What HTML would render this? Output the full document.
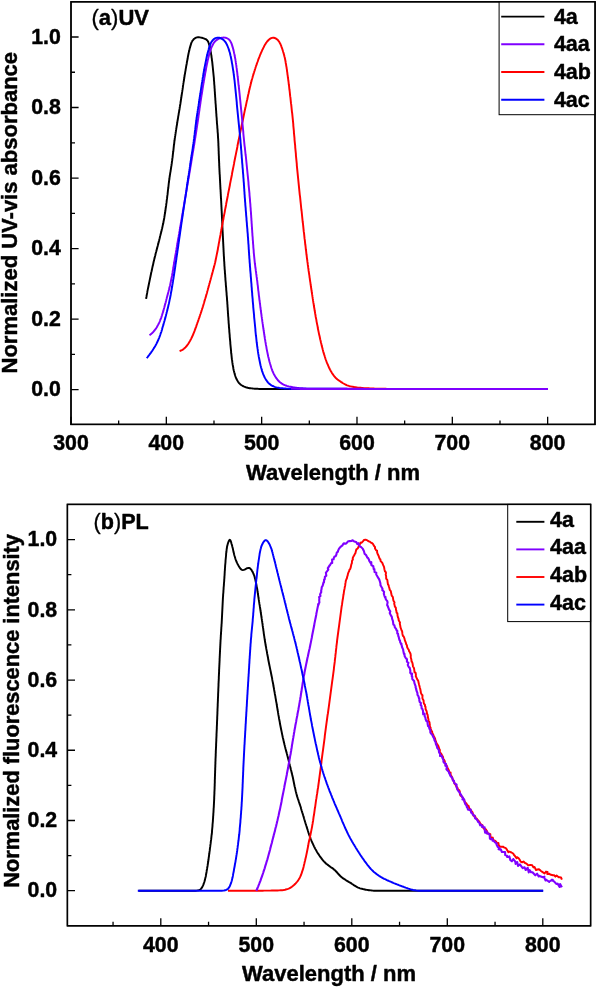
<!DOCTYPE html>
<html><head><meta charset="utf-8"><title>Normalized UV-vis absorbance and fluorescence spectra</title>
<style>
html,body{margin:0;padding:0;background:#fff;}
body{width:597px;height:988px;overflow:hidden;}
svg{display:block;will-change:transform;}
text{font-family:"Liberation Sans",sans-serif;font-weight:bold;fill:#000;stroke:#000;stroke-width:0.45px;stroke-linejoin:round;}
.tk{font-size:21.3px;}
.lb{font-size:22px;}
.lg{font-size:21.5px;}
.ti{font-size:22px;}
.rg{font-weight:normal;stroke-width:0.3px;}
</style></head><body>
<svg width="597" height="988" viewBox="0 0 597 988">
<rect x="0" y="0" width="597" height="988" fill="#fff"/>

<path d="M146.1,298.8 L146.3,297.5 L146.5,296.7 L146.6,295.8 L146.8,294.8 L147.0,293.9 L147.2,292.9 L147.3,291.9 L147.5,290.9 L147.7,289.9 L147.9,288.9 L148.1,288.0 L148.3,287.0 L148.5,286.0 L148.7,285.0 L148.9,284.0 L149.1,283.0 L149.3,282.1 L149.5,281.1 L149.7,280.1 L149.9,279.1 L150.1,278.1 L150.3,277.2 L150.5,276.2 L150.7,275.2 L150.9,274.2 L151.1,273.2 L151.3,272.3 L151.6,271.3 L151.8,270.3 L152.0,269.3 L152.2,268.4 L152.4,267.4 L152.6,266.4 L152.9,265.4 L153.1,264.5 L153.3,263.5 L153.5,262.5 L153.7,261.5 L154.0,260.6 L154.2,259.6 L154.4,258.6 L154.7,257.6 L154.9,256.7 L155.2,255.7 L155.4,254.7 L155.6,253.8 L155.9,252.8 L156.2,251.8 L156.4,250.8 L156.7,249.9 L156.9,248.9 L157.2,247.9 L157.4,247.0 L157.7,246.0 L157.9,245.0 L158.2,244.1 L158.4,243.1 L158.7,242.1 L158.9,241.2 L159.2,240.2 L159.4,239.2 L159.7,238.2 L159.9,237.3 L160.1,236.3 L160.4,235.3 L160.6,234.4 L160.9,233.4 L161.1,232.4 L161.4,231.4 L161.6,230.5 L161.8,229.5 L162.1,228.5 L162.3,227.5 L162.5,226.6 L162.7,225.6 L162.9,224.6 L163.2,223.6 L163.4,222.6 L163.5,221.7 L163.7,220.7 L163.9,219.7 L164.1,218.7 L164.3,217.7 L164.4,216.7 L164.6,215.8 L164.7,214.8 L164.9,213.8 L165.1,212.8 L165.2,211.8 L165.4,210.8 L165.5,209.8 L165.6,208.8 L165.8,207.8 L165.9,206.8 L166.1,205.9 L166.2,204.9 L166.3,203.9 L166.5,202.9 L166.6,201.9 L166.7,200.9 L166.8,199.9 L167.0,198.9 L167.1,197.9 L167.2,196.9 L167.3,195.9 L167.5,194.9 L167.6,193.9 L167.7,192.9 L167.8,191.9 L167.9,190.9 L168.0,190.0 L168.1,189.0 L168.3,188.0 L168.4,187.0 L168.5,186.0 L168.6,185.0 L168.7,184.0 L168.8,183.0 L169.0,182.0 L169.1,181.0 L169.2,180.0 L169.4,179.0 L169.5,178.0 L169.6,177.0 L169.8,176.0 L169.9,175.1 L170.1,174.1 L170.2,173.1 L170.4,172.1 L170.6,171.1 L170.7,170.1 L170.9,169.1 L171.0,168.1 L171.2,167.1 L171.3,166.2 L171.5,165.2 L171.6,164.2 L171.8,163.2 L171.9,162.2 L172.0,161.2 L172.2,160.2 L172.3,159.2 L172.4,158.2 L172.6,157.2 L172.7,156.2 L172.8,155.2 L172.9,154.2 L173.0,153.3 L173.1,152.3 L173.3,151.3 L173.4,150.3 L173.5,149.3 L173.6,148.3 L173.7,147.3 L173.8,146.3 L173.9,145.3 L174.1,144.3 L174.2,143.3 L174.3,142.3 L174.4,141.3 L174.6,140.3 L174.7,139.3 L174.8,138.3 L175.0,137.4 L175.1,136.4 L175.3,135.4 L175.4,134.4 L175.6,133.4 L175.7,132.4 L175.9,131.4 L176.0,130.4 L176.2,129.4 L176.3,128.4 L176.5,127.5 L176.6,126.5 L176.8,125.5 L177.0,124.5 L177.1,123.5 L177.3,122.5 L177.4,121.5 L177.6,120.5 L177.8,119.5 L177.9,118.6 L178.1,117.6 L178.2,116.6 L178.4,115.6 L178.6,114.6 L178.7,113.6 L178.9,112.6 L179.1,111.6 L179.2,110.7 L179.4,109.7 L179.6,108.7 L179.7,107.7 L179.9,106.7 L180.0,105.7 L180.2,104.7 L180.4,103.7 L180.5,102.8 L180.7,101.8 L180.8,100.8 L181.0,99.8 L181.1,98.8 L181.3,97.8 L181.4,96.8 L181.6,95.8 L181.7,94.8 L181.9,93.8 L182.0,92.9 L182.2,91.9 L182.3,90.9 L182.5,89.9 L182.6,88.9 L182.8,87.9 L182.9,86.9 L183.0,85.9 L183.2,84.9 L183.3,83.9 L183.5,82.9 L183.6,82.0 L183.8,81.0 L184.0,80.0 L184.1,79.0 L184.3,78.0 L184.4,77.0 L184.6,76.0 L184.7,75.0 L184.9,74.0 L185.1,73.1 L185.2,72.1 L185.4,71.1 L185.6,70.1 L185.7,69.1 L185.9,68.1 L186.1,67.1 L186.2,66.1 L186.4,65.2 L186.6,64.2 L186.8,63.2 L186.9,62.2 L187.1,61.2 L187.3,60.2 L187.5,59.3 L187.7,58.3 L187.8,57.3 L188.0,56.3 L188.2,55.3 L188.4,54.3 L188.6,53.3 L188.8,52.4 L189.0,51.4 L189.3,50.4 L189.5,49.4 L189.7,48.4 L190.0,47.4 L190.3,46.4 L190.6,45.4 L190.9,44.4 L191.2,43.4 L191.5,42.5 L192.0,41.6 L192.4,40.8 L193.0,40.1 L193.6,39.3 L194.3,38.7 L195.2,38.1 L196.1,37.7 L197.0,37.4 L197.9,37.3 L198.9,37.3 L199.9,37.4 L200.9,37.6 L201.9,37.8 L202.9,38.1 L203.8,38.4 L204.8,38.8 L205.7,39.2 L206.5,39.7 L207.1,40.3 L207.7,40.9 L208.2,41.7 L208.5,42.6 L208.9,43.5 L209.1,44.5 L209.4,45.5 L209.7,46.5 L209.9,47.6 L210.1,48.6 L210.3,49.7 L210.5,50.7 L210.7,51.7 L210.9,52.7 L211.0,53.6 L211.2,54.6 L211.4,55.6 L211.5,56.6 L211.6,57.6 L211.8,58.6 L211.9,59.6 L212.0,60.6 L212.2,61.6 L212.3,62.6 L212.4,63.6 L212.5,64.6 L212.6,65.6 L212.7,66.5 L212.8,67.5 L212.9,68.5 L213.0,69.5 L213.1,70.5 L213.2,71.5 L213.3,72.5 L213.4,73.5 L213.5,74.5 L213.6,75.5 L213.7,76.5 L213.8,77.5 L213.9,78.5 L213.9,79.5 L214.0,80.5 L214.1,81.5 L214.2,82.5 L214.2,83.5 L214.3,84.5 L214.4,85.5 L214.5,86.5 L214.5,87.5 L214.6,88.5 L214.7,89.5 L214.7,90.5 L214.8,91.5 L214.9,92.5 L214.9,93.5 L215.0,94.5 L215.1,95.5 L215.1,96.5 L215.2,97.5 L215.3,98.5 L215.3,99.5 L215.4,100.5 L215.5,101.5 L215.5,102.5 L215.6,103.5 L215.7,104.5 L215.8,105.5 L215.8,106.5 L215.9,107.5 L216.0,108.5 L216.0,109.5 L216.1,110.5 L216.2,111.5 L216.2,112.5 L216.3,113.5 L216.4,114.5 L216.4,115.5 L216.5,116.5 L216.6,117.5 L216.7,118.5 L216.7,119.5 L216.8,120.5 L216.9,121.5 L216.9,122.5 L217.0,123.5 L217.1,124.5 L217.2,125.5 L217.3,126.5 L217.3,127.4 L217.4,128.4 L217.5,129.4 L217.6,130.4 L217.6,131.4 L217.7,132.4 L217.8,133.4 L217.9,134.4 L217.9,135.4 L218.0,136.4 L218.0,137.4 L218.1,138.4 L218.2,139.4 L218.2,140.4 L218.3,141.4 L218.3,142.4 L218.4,143.4 L218.4,144.4 L218.4,145.4 L218.5,146.4 L218.5,147.4 L218.6,148.4 L218.6,149.4 L218.6,150.4 L218.7,151.4 L218.7,152.4 L218.7,153.4 L218.8,154.4 L218.8,155.4 L218.9,156.4 L218.9,157.4 L218.9,158.4 L219.0,159.4 L219.0,160.4 L219.1,161.4 L219.1,162.4 L219.2,163.4 L219.2,164.4 L219.2,165.4 L219.3,166.4 L219.3,167.4 L219.4,168.4 L219.4,169.4 L219.5,170.4 L219.5,171.4 L219.6,172.4 L219.6,173.4 L219.7,174.4 L219.8,175.4 L219.8,176.4 L219.9,177.4 L219.9,178.4 L220.0,179.4 L220.0,180.4 L220.1,181.4 L220.1,182.4 L220.2,183.4 L220.2,184.4 L220.3,185.4 L220.3,186.4 L220.4,187.4 L220.4,188.4 L220.5,189.4 L220.6,190.4 L220.6,191.4 L220.7,192.4 L220.7,193.4 L220.8,194.4 L220.8,195.4 L220.9,196.4 L220.9,197.4 L221.0,198.4 L221.1,199.4 L221.1,200.4 L221.2,201.4 L221.2,202.4 L221.3,203.4 L221.3,204.4 L221.4,205.4 L221.4,206.4 L221.5,207.4 L221.5,208.4 L221.6,209.4 L221.6,210.4 L221.7,211.4 L221.7,212.4 L221.8,213.4 L221.8,214.4 L221.9,215.4 L221.9,216.4 L222.0,217.4 L222.0,218.4 L222.1,219.4 L222.1,220.4 L222.2,221.4 L222.2,222.4 L222.3,223.4 L222.3,224.4 L222.3,225.4 L222.4,226.4 L222.4,227.4 L222.5,228.4 L222.5,229.4 L222.6,230.4 L222.6,231.4 L222.7,232.4 L222.7,233.4 L222.8,234.4 L222.8,235.4 L222.9,236.4 L222.9,237.4 L223.0,238.4 L223.0,239.4 L223.1,240.4 L223.1,241.4 L223.2,242.4 L223.2,243.4 L223.3,244.4 L223.3,245.4 L223.4,246.4 L223.4,247.4 L223.5,248.4 L223.5,249.4 L223.6,250.4 L223.6,251.4 L223.7,252.4 L223.7,253.4 L223.8,254.4 L223.8,255.4 L223.9,256.4 L224.0,257.4 L224.0,258.4 L224.1,259.4 L224.1,260.4 L224.2,261.4 L224.3,262.4 L224.3,263.4 L224.4,264.4 L224.4,265.4 L224.5,266.4 L224.6,267.4 L224.6,268.4 L224.7,269.4 L224.8,270.4 L224.9,271.4 L224.9,272.4 L225.0,273.4 L225.1,274.4 L225.2,275.4 L225.2,276.4 L225.3,277.4 L225.4,278.4 L225.4,279.4 L225.5,280.4 L225.6,281.4 L225.7,282.4 L225.8,283.4 L225.8,284.4 L225.9,285.4 L226.0,286.4 L226.1,287.4 L226.2,288.4 L226.2,289.4 L226.3,290.4 L226.4,291.4 L226.5,292.4 L226.6,293.4 L226.6,294.4 L226.7,295.4 L226.8,296.4 L226.9,297.4 L227.0,298.4 L227.0,299.4 L227.1,300.4 L227.2,301.4 L227.3,302.4 L227.3,303.4 L227.4,304.4 L227.5,305.4 L227.5,306.4 L227.6,307.4 L227.7,308.4 L227.7,309.4 L227.8,310.4 L227.9,311.4 L227.9,312.4 L228.0,313.4 L228.1,314.3 L228.1,315.3 L228.2,316.3 L228.3,317.3 L228.4,318.3 L228.4,319.3 L228.5,320.3 L228.6,321.3 L228.6,322.3 L228.7,323.3 L228.8,324.3 L228.9,325.3 L228.9,326.3 L229.0,327.3 L229.1,328.3 L229.2,329.3 L229.3,330.3 L229.3,331.3 L229.4,332.3 L229.5,333.3 L229.6,334.3 L229.7,335.3 L229.7,336.3 L229.8,337.3 L229.9,338.3 L230.0,339.3 L230.1,340.3 L230.2,341.3 L230.3,342.3 L230.3,343.3 L230.4,344.3 L230.5,345.3 L230.6,346.3 L230.7,347.3 L230.8,348.3 L230.9,349.3 L231.0,350.3 L231.1,351.3 L231.1,352.3 L231.2,353.3 L231.4,354.3 L231.5,355.3 L231.6,356.3 L231.7,357.3 L231.8,358.3 L231.9,359.2 L232.1,360.2 L232.2,361.2 L232.3,362.2 L232.5,363.2 L232.6,364.2 L232.8,365.2 L233.0,366.2 L233.2,367.2 L233.3,368.2 L233.5,369.2 L233.7,370.2 L234.0,371.2 L234.2,372.2 L234.5,373.1 L234.7,374.1 L235.0,375.0 L235.3,376.0 L235.6,376.9 L236.0,377.8 L236.4,378.8 L236.9,379.7 L237.4,380.6 L237.9,381.5 L238.5,382.3 L239.1,383.1 L239.8,383.8 L240.5,384.4 L241.2,385.0 L242.0,385.5 L242.8,386.0 L243.7,386.4 L244.7,386.8 L245.7,387.2 L246.7,387.5 L247.7,387.8 L248.7,388.0 L249.7,388.2 L250.6,388.3 L251.6,388.4 L252.6,388.5 L253.6,388.6 L254.6,388.7 L255.6,388.7 L256.6,388.8 L257.6,388.8 L258.6,388.9 L259.7,388.9 L260.7,388.9 L261.7,388.9 L262.7,388.9 L263.7,388.9 L264.7,388.9 L265.7,388.9 L266.7,388.9 L267.7,388.9 L268.7,388.9 L269.7,388.9 L270.7,388.9 L271.7,388.9 L272.7,388.9 L273.7,388.9 L274.7,388.9 L275.7,388.9 L276.7,388.9 L277.7,388.9 L278.7,388.9 L279.7,388.9 L280.7,388.9 L281.7,388.9 L282.7,388.9 L283.7,388.9 L284.7,388.9 L285.7,388.9 L286.7,388.9 L287.7,388.9 L288.7,388.9 L289.7,388.9 L290.7,388.9 L291.7,388.9 L292.7,388.9 L293.7,388.9 L294.7,388.9 L295.7,388.9 L296.7,388.9 L297.7,388.9 L298.7,388.9 L299.7,388.9 L300.7,388.9 L301.7,388.9 L302.7,388.9 L303.7,388.9 L304.7,388.9 L305.7,388.9 L306.7,388.9 L307.7,388.9 L308.7,388.9 L309.7,388.9 L310.7,388.9 L311.7,388.9 L312.7,388.9 L313.7,388.9 L314.7,388.9 L315.7,388.9 L316.7,388.9 L317.7,388.9 L318.7,388.9 L319.7,388.9 L320.7,388.9 L321.7,388.9 L322.7,389.0 L323.7,389.0 L324.7,389.0 L325.7,389.0 L326.7,389.0 L327.7,389.0 L328.7,389.0 L329.7,389.0 L330.7,389.0 L331.7,389.0 L332.7,389.0 L333.7,389.0 L334.7,389.0 L335.7,389.0 L336.7,389.0 L337.7,389.0 L338.7,389.0 L339.7,389.0 L340.7,389.0 L341.7,389.0 L342.7,389.0 L343.7,389.0 L344.7,389.0 L345.7,389.0 L346.7,389.0 L347.7,389.0 L348.7,389.0 L349.7,389.0 L350.7,389.0 L351.7,389.0 L352.7,389.0 L353.7,389.0 L354.7,389.0 L355.7,389.0 L356.7,389.0 L357.7,389.0 L358.7,389.0 L359.7,389.0 L360.7,389.0 L361.7,389.0 L362.7,389.0 L363.7,389.0 L364.7,389.0 L365.7,389.0 L366.7,389.0 L367.7,389.0 L368.7,389.0 L369.7,389.0 L370.7,389.0 L371.7,389.0 L372.7,389.0 L373.7,389.0 L374.7,389.0 L375.7,389.0 L376.7,389.0 L377.7,389.0 L378.7,389.0 L379.7,389.0 L380.7,389.0 L381.7,389.0 L382.7,389.0 L383.7,389.0 L384.7,389.0 L385.7,389.0 L386.7,389.0 L387.7,389.0 L388.7,389.0 L389.7,389.0 L390.7,389.0 L391.7,389.0 L392.7,389.0 L393.7,389.0 L394.7,389.0 L395.7,389.0 L396.7,389.0 L397.7,389.0 L398.7,389.0 L399.7,389.0 L400.7,389.0 L401.7,389.0 L402.7,389.0 L403.7,389.0 L404.7,389.0 L405.7,389.0 L406.7,389.0 L407.7,389.0 L408.7,389.0 L409.7,389.0 L410.7,389.0 L411.7,389.0 L412.7,389.0 L413.7,389.0 L414.7,389.0 L415.7,389.0 L416.7,389.0 L417.7,389.0 L418.7,389.0 L419.7,389.0 L420.7,389.0 L421.7,389.0 L422.7,389.0 L423.7,389.0 L424.7,389.0 L425.7,389.0 L426.8,389.0 L427.8,389.0 L428.8,389.0 L429.8,389.0 L430.8,389.0 L431.8,389.0 L432.8,389.0 L433.8,389.0 L434.8,389.0 L435.8,389.0 L436.8,389.0 L437.8,389.0 L438.8,389.0 L439.8,389.0 L440.8,389.0 L441.8,389.0 L442.8,389.0 L443.8,389.0 L444.8,389.0 L445.8,389.0 L446.8,389.0 L447.8,389.0 L448.8,389.0 L449.8,389.0 L450.8,389.0 L451.8,389.0 L452.8,389.0 L453.8,389.0 L454.8,389.0 L455.8,389.0 L456.8,389.0 L457.8,389.0 L458.8,389.0 L459.8,389.0 L460.8,389.0 L461.8,389.0 L462.8,389.0 L463.8,389.0 L464.8,389.0 L465.8,389.0 L466.8,389.0 L467.8,389.0 L468.8,389.0 L469.8,389.0 L470.8,389.0 L471.8,389.0 L472.8,389.0 L473.8,389.0 L474.8,389.0 L475.8,389.0 L476.8,389.0 L477.8,389.0 L478.8,389.0 L479.8,389.0 L480.8,389.0 L481.8,389.0 L482.8,389.0 L483.8,389.0 L484.8,389.0 L485.8,389.0 L486.8,389.0 L487.9,389.0 L488.9,389.0 L489.9,389.0 L490.9,389.0 L491.9,389.0 L492.9,389.0 L493.9,389.0 L494.9,389.0 L495.9,389.0 L496.9,389.0 L497.9,389.0 L498.9,389.0 L499.9,389.0 L500.9,389.0 L501.9,389.0 L502.9,389.0 L503.9,389.0 L504.9,389.0 L505.9,389.0 L506.9,389.0 L507.9,389.0 L508.9,389.0 L509.9,389.0 L510.9,389.0 L511.9,389.0 L512.9,389.0 L513.9,389.0 L514.9,389.0 L515.9,389.0 L516.9,389.0 L517.9,389.0 L518.9,389.0 L519.9,389.0 L520.9,389.0 L521.9,389.0 L522.9,389.0 L523.9,389.0 L524.9,389.0 L525.9,389.0 L526.9,389.0 L527.9,389.0 L528.9,389.0 L529.9,389.0 L531.0,389.0 L532.0,389.0 L533.0,389.0 L534.0,389.0 L535.0,389.0 L536.0,389.0 L537.0,389.0 L538.0,389.0 L539.0,389.0 L540.0,389.0 L541.0,389.0 L542.0,389.0 L543.0,389.0 L544.0,389.0 L545.0,389.0 L545.9,389.0 L546.7,389.0 L548.0,389.0" fill="none" stroke="#000000" stroke-width="1.95" stroke-linejoin="round" stroke-linecap="butt"/>
<path d="M179.6,351.1 L181.1,350.5 L181.7,350.2 L182.4,349.8 L183.2,349.3 L183.9,348.8 L184.7,348.1 L185.4,347.5 L186.0,346.7 L186.7,346.0 L187.3,345.2 L187.9,344.3 L188.5,343.5 L189.0,342.6 L189.5,341.7 L190.0,340.9 L190.5,340.0 L191.0,339.1 L191.4,338.2 L191.9,337.3 L192.3,336.4 L192.7,335.5 L193.1,334.6 L193.5,333.7 L193.8,332.8 L194.2,331.8 L194.6,330.9 L194.9,329.9 L195.3,329.0 L195.6,328.0 L196.0,327.1 L196.3,326.1 L196.6,325.2 L197.0,324.2 L197.3,323.3 L197.6,322.3 L198.0,321.4 L198.3,320.4 L198.6,319.5 L198.9,318.5 L199.3,317.6 L199.6,316.6 L199.9,315.7 L200.2,314.7 L200.6,313.8 L200.9,312.8 L201.2,311.9 L201.5,310.9 L201.8,310.0 L202.1,309.0 L202.4,308.1 L202.7,307.1 L203.0,306.2 L203.3,305.2 L203.6,304.2 L203.9,303.3 L204.2,302.3 L204.4,301.4 L204.7,300.4 L205.0,299.4 L205.3,298.5 L205.6,297.5 L205.9,296.6 L206.1,295.6 L206.4,294.6 L206.7,293.7 L207.0,292.7 L207.2,291.7 L207.5,290.8 L207.8,289.8 L208.0,288.8 L208.3,287.9 L208.6,286.9 L208.8,286.0 L209.1,285.0 L209.3,284.0 L209.6,283.1 L209.9,282.1 L210.1,281.1 L210.4,280.2 L210.7,279.2 L210.9,278.2 L211.2,277.3 L211.5,276.3 L211.7,275.3 L212.0,274.4 L212.3,273.4 L212.5,272.4 L212.8,271.5 L213.0,270.5 L213.3,269.5 L213.6,268.6 L213.8,267.6 L214.1,266.6 L214.3,265.7 L214.6,264.7 L214.8,263.7 L215.1,262.7 L215.3,261.8 L215.5,260.8 L215.7,259.8 L215.9,258.8 L216.1,257.9 L216.3,256.9 L216.5,255.9 L216.7,254.9 L216.9,253.9 L217.1,253.0 L217.3,252.0 L217.5,251.0 L217.7,250.0 L217.9,249.0 L218.0,248.0 L218.2,247.0 L218.4,246.1 L218.6,245.1 L218.7,244.1 L218.9,243.1 L219.1,242.1 L219.3,241.1 L219.5,240.1 L219.6,239.2 L219.8,238.2 L220.0,237.2 L220.2,236.2 L220.4,235.2 L220.6,234.2 L220.7,233.3 L220.9,232.3 L221.1,231.3 L221.3,230.3 L221.5,229.3 L221.6,228.3 L221.8,227.3 L222.0,226.4 L222.2,225.4 L222.4,224.4 L222.5,223.4 L222.7,222.4 L222.9,221.4 L223.1,220.4 L223.3,219.5 L223.5,218.5 L223.6,217.5 L223.8,216.5 L224.0,215.5 L224.2,214.5 L224.4,213.6 L224.6,212.6 L224.8,211.6 L224.9,210.6 L225.1,209.6 L225.3,208.6 L225.5,207.7 L225.7,206.7 L225.9,205.7 L226.1,204.7 L226.2,203.7 L226.4,202.7 L226.6,201.8 L226.8,200.8 L227.0,199.8 L227.2,198.8 L227.4,197.8 L227.6,196.8 L227.8,195.9 L227.9,194.9 L228.1,193.9 L228.3,192.9 L228.5,191.9 L228.7,190.9 L228.9,190.0 L229.1,189.0 L229.3,188.0 L229.5,187.0 L229.7,186.0 L229.9,185.0 L230.0,184.1 L230.2,183.1 L230.4,182.1 L230.6,181.1 L230.8,180.1 L231.0,179.1 L231.2,178.2 L231.4,177.2 L231.6,176.2 L231.8,175.2 L232.0,174.2 L232.1,173.2 L232.3,172.3 L232.5,171.3 L232.7,170.3 L232.9,169.3 L233.1,168.3 L233.3,167.4 L233.5,166.4 L233.7,165.4 L233.9,164.4 L234.1,163.4 L234.2,162.4 L234.4,161.5 L234.6,160.5 L234.8,159.5 L235.0,158.5 L235.2,157.5 L235.4,156.5 L235.6,155.6 L235.8,154.6 L236.0,153.6 L236.2,152.6 L236.4,151.6 L236.6,150.6 L236.8,149.7 L237.0,148.7 L237.2,147.7 L237.4,146.7 L237.5,145.7 L237.7,144.8 L237.9,143.8 L238.1,142.8 L238.3,141.8 L238.5,140.8 L238.7,139.8 L238.9,138.9 L239.1,137.9 L239.3,136.9 L239.5,135.9 L239.7,134.9 L239.9,134.0 L240.1,133.0 L240.3,132.0 L240.5,131.0 L240.7,130.0 L240.9,129.1 L241.1,128.1 L241.3,127.1 L241.5,126.1 L241.7,125.1 L241.9,124.2 L242.1,123.2 L242.3,122.2 L242.6,121.2 L242.8,120.2 L243.0,119.3 L243.2,118.3 L243.4,117.3 L243.6,116.3 L243.8,115.3 L244.0,114.4 L244.2,113.4 L244.4,112.4 L244.6,111.4 L244.8,110.4 L245.0,109.5 L245.2,108.5 L245.4,107.5 L245.7,106.5 L245.9,105.5 L246.1,104.6 L246.3,103.6 L246.5,102.6 L246.7,101.6 L246.9,100.7 L247.2,99.7 L247.4,98.7 L247.6,97.7 L247.8,96.7 L248.0,95.8 L248.2,94.8 L248.5,93.8 L248.7,92.8 L248.9,91.8 L249.1,90.9 L249.3,89.9 L249.6,88.9 L249.8,87.9 L250.0,87.0 L250.3,86.0 L250.5,85.0 L250.7,84.1 L251.0,83.1 L251.2,82.1 L251.5,81.1 L251.7,80.2 L252.0,79.2 L252.3,78.3 L252.6,77.3 L252.8,76.3 L253.1,75.4 L253.4,74.4 L253.7,73.4 L254.0,72.5 L254.3,71.5 L254.6,70.6 L254.9,69.6 L255.2,68.7 L255.5,67.7 L255.8,66.8 L256.1,65.8 L256.5,64.9 L256.8,63.9 L257.1,63.0 L257.5,62.0 L257.8,61.1 L258.1,60.1 L258.5,59.2 L258.8,58.3 L259.2,57.3 L259.6,56.4 L259.9,55.5 L260.3,54.5 L260.7,53.6 L261.1,52.7 L261.5,51.8 L261.9,50.9 L262.3,49.9 L262.8,49.0 L263.2,48.1 L263.7,47.2 L264.1,46.3 L264.6,45.4 L265.1,44.5 L265.7,43.6 L266.2,42.8 L266.8,42.0 L267.4,41.2 L268.1,40.5 L268.8,39.8 L269.5,39.2 L270.3,38.7 L271.2,38.2 L272.1,37.9 L273.0,37.8 L273.8,37.8 L274.7,38.0 L275.6,38.4 L276.4,38.9 L277.2,39.5 L277.9,40.1 L278.5,40.9 L279.1,41.6 L279.6,42.5 L280.0,43.3 L280.5,44.2 L280.9,45.2 L281.3,46.1 L281.6,47.1 L282.0,48.1 L282.3,49.0 L282.6,50.0 L282.9,51.0 L283.2,52.0 L283.5,52.9 L283.8,53.9 L284.0,54.9 L284.3,55.8 L284.5,56.8 L284.8,57.8 L285.0,58.8 L285.2,59.7 L285.4,60.7 L285.6,61.7 L285.7,62.7 L285.9,63.7 L286.1,64.6 L286.2,65.6 L286.4,66.6 L286.6,67.6 L286.7,68.6 L286.9,69.6 L287.0,70.6 L287.1,71.6 L287.3,72.6 L287.4,73.6 L287.5,74.6 L287.7,75.6 L287.8,76.5 L287.9,77.5 L288.1,78.5 L288.2,79.5 L288.3,80.5 L288.5,81.5 L288.6,82.5 L288.7,83.5 L288.8,84.5 L289.0,85.5 L289.1,86.5 L289.2,87.5 L289.3,88.5 L289.4,89.5 L289.6,90.5 L289.7,91.5 L289.8,92.4 L289.9,93.4 L290.0,94.4 L290.1,95.4 L290.2,96.4 L290.4,97.4 L290.5,98.4 L290.6,99.4 L290.7,100.4 L290.8,101.4 L290.9,102.4 L291.0,103.4 L291.2,104.4 L291.3,105.4 L291.4,106.4 L291.5,107.4 L291.6,108.4 L291.7,109.4 L291.8,110.4 L291.9,111.4 L292.0,112.3 L292.2,113.3 L292.3,114.3 L292.4,115.3 L292.5,116.3 L292.6,117.3 L292.7,118.3 L292.8,119.3 L292.9,120.3 L293.0,121.3 L293.1,122.3 L293.2,123.3 L293.3,124.3 L293.3,125.3 L293.4,126.3 L293.5,127.3 L293.6,128.3 L293.7,129.3 L293.8,130.3 L293.9,131.3 L293.9,132.3 L294.0,133.3 L294.1,134.3 L294.2,135.3 L294.3,136.3 L294.4,137.3 L294.5,138.3 L294.5,139.3 L294.6,140.3 L294.7,141.3 L294.8,142.3 L294.9,143.3 L295.0,144.3 L295.1,145.2 L295.2,146.2 L295.2,147.2 L295.3,148.2 L295.4,149.2 L295.5,150.2 L295.6,151.2 L295.7,152.2 L295.8,153.2 L295.9,154.2 L295.9,155.2 L296.0,156.2 L296.1,157.2 L296.2,158.2 L296.3,159.2 L296.4,160.2 L296.5,161.2 L296.6,162.2 L296.7,163.2 L296.8,164.2 L296.8,165.2 L296.9,166.2 L297.0,167.2 L297.1,168.2 L297.2,169.2 L297.3,170.2 L297.4,171.2 L297.5,172.2 L297.6,173.2 L297.7,174.2 L297.8,175.2 L297.9,176.2 L298.0,177.2 L298.1,178.2 L298.2,179.1 L298.3,180.1 L298.4,181.1 L298.5,182.1 L298.6,183.1 L298.7,184.1 L298.8,185.1 L298.9,186.1 L299.0,187.1 L299.1,188.1 L299.2,189.1 L299.3,190.1 L299.4,191.1 L299.5,192.1 L299.6,193.1 L299.7,194.1 L299.8,195.1 L300.0,196.1 L300.1,197.1 L300.2,198.1 L300.3,199.1 L300.4,200.1 L300.5,201.1 L300.6,202.1 L300.7,203.0 L300.8,204.0 L300.9,205.0 L301.0,206.0 L301.1,207.0 L301.2,208.0 L301.3,209.0 L301.4,210.0 L301.6,211.0 L301.7,212.0 L301.8,213.0 L301.9,214.0 L302.0,215.0 L302.1,216.0 L302.2,217.0 L302.3,218.0 L302.4,219.0 L302.5,220.0 L302.6,221.0 L302.7,222.0 L302.9,223.0 L303.0,224.0 L303.1,224.9 L303.2,225.9 L303.3,226.9 L303.4,227.9 L303.5,228.9 L303.6,229.9 L303.7,230.9 L303.8,231.9 L304.0,232.9 L304.1,233.9 L304.2,234.9 L304.3,235.9 L304.4,236.9 L304.5,237.9 L304.6,238.9 L304.8,239.9 L304.9,240.9 L305.0,241.9 L305.1,242.9 L305.2,243.9 L305.3,244.8 L305.5,245.8 L305.6,246.8 L305.7,247.8 L305.8,248.8 L305.9,249.8 L306.1,250.8 L306.2,251.8 L306.3,252.8 L306.4,253.8 L306.5,254.8 L306.7,255.8 L306.8,256.8 L306.9,257.8 L307.0,258.8 L307.2,259.8 L307.3,260.7 L307.4,261.7 L307.6,262.7 L307.7,263.7 L307.8,264.7 L308.0,265.7 L308.1,266.7 L308.2,267.7 L308.4,268.7 L308.5,269.7 L308.6,270.7 L308.8,271.7 L308.9,272.6 L309.1,273.6 L309.2,274.6 L309.4,275.6 L309.5,276.6 L309.6,277.6 L309.8,278.6 L309.9,279.6 L310.1,280.6 L310.2,281.6 L310.4,282.6 L310.5,283.5 L310.6,284.5 L310.8,285.5 L310.9,286.5 L311.1,287.5 L311.2,288.5 L311.4,289.5 L311.5,290.5 L311.7,291.5 L311.8,292.5 L312.0,293.5 L312.1,294.4 L312.3,295.4 L312.4,296.4 L312.6,297.4 L312.7,298.4 L312.9,299.4 L313.0,300.4 L313.2,301.4 L313.3,302.4 L313.5,303.3 L313.7,304.3 L313.8,305.3 L314.0,306.3 L314.1,307.3 L314.3,308.3 L314.5,309.3 L314.6,310.3 L314.8,311.3 L315.0,312.2 L315.1,313.2 L315.3,314.2 L315.5,315.2 L315.6,316.2 L315.8,317.2 L316.0,318.2 L316.2,319.1 L316.4,320.1 L316.5,321.1 L316.7,322.1 L316.9,323.1 L317.1,324.1 L317.3,325.1 L317.5,326.0 L317.7,327.0 L317.8,328.0 L318.0,329.0 L318.2,330.0 L318.4,330.9 L318.6,331.9 L318.8,332.9 L319.0,333.9 L319.2,334.9 L319.5,335.8 L319.7,336.8 L319.9,337.8 L320.1,338.8 L320.3,339.8 L320.6,340.7 L320.8,341.7 L321.0,342.7 L321.3,343.7 L321.5,344.6 L321.7,345.6 L322.0,346.6 L322.2,347.6 L322.5,348.5 L322.7,349.5 L323.0,350.5 L323.2,351.5 L323.5,352.4 L323.8,353.4 L324.1,354.4 L324.4,355.3 L324.7,356.3 L325.0,357.2 L325.3,358.2 L325.6,359.1 L325.9,360.0 L326.3,361.0 L326.6,361.9 L327.0,362.9 L327.4,363.8 L327.8,364.7 L328.2,365.7 L328.6,366.6 L329.0,367.5 L329.5,368.5 L329.9,369.4 L330.4,370.3 L330.9,371.2 L331.4,372.0 L331.9,372.9 L332.4,373.7 L333.0,374.5 L333.6,375.3 L334.2,376.1 L334.8,376.8 L335.4,377.5 L336.1,378.2 L336.9,378.9 L337.6,379.5 L338.4,380.1 L339.3,380.7 L340.1,381.3 L340.9,381.9 L341.8,382.4 L342.6,383.0 L343.5,383.5 L344.4,384.0 L345.3,384.5 L346.2,384.9 L347.1,385.3 L348.0,385.6 L348.9,385.9 L349.9,386.2 L350.8,386.4 L351.8,386.6 L352.8,386.8 L353.8,387.0 L354.8,387.2 L355.8,387.3 L356.8,387.4 L357.8,387.6 L358.8,387.7 L359.8,387.8 L360.8,387.8 L361.8,387.9 L362.8,388.0 L363.8,388.1 L364.8,388.1 L365.8,388.2 L366.8,388.2 L367.8,388.3 L368.8,388.3 L369.8,388.4 L370.8,388.4 L371.8,388.5 L372.8,388.5 L373.8,388.5 L374.8,388.6 L375.8,388.6 L376.8,388.6 L377.8,388.6 L378.8,388.7 L379.8,388.7 L380.8,388.7 L381.8,388.7 L382.8,388.8 L383.8,388.8 L384.8,388.8 L385.8,388.8 L386.8,388.9 L387.8,388.9 L388.8,388.9 L389.8,388.9 L390.8,388.9 L391.8,388.9 L392.8,388.9 L393.8,389.0 L394.8,389.0 L395.8,389.0 L396.8,389.0 L397.8,389.0 L398.8,389.0 L399.8,389.0 L400.8,389.0 L401.8,389.0 L402.8,389.0 L403.8,389.0 L404.8,389.0 L405.8,389.0 L406.8,389.0 L407.8,389.0 L408.8,389.0 L409.8,389.0 L410.8,389.0 L411.8,389.0 L412.8,389.0 L413.8,389.0 L414.8,389.0 L415.8,389.0 L416.8,389.0 L417.8,389.0 L418.8,389.0 L419.8,389.0 L420.8,389.0 L421.8,389.0 L422.8,389.0 L423.8,389.0 L424.8,389.0 L425.8,389.0 L426.8,389.0 L427.8,389.0 L428.8,389.0 L429.8,389.0 L430.9,389.0 L431.9,389.0 L432.9,389.0 L433.9,389.0 L434.9,389.0 L435.9,389.0 L436.9,389.0 L437.9,389.0 L438.9,389.0 L439.9,389.0 L440.9,389.0 L441.9,389.0 L442.9,389.0 L443.9,389.0 L444.9,389.0 L445.9,389.0 L446.9,389.0 L447.9,389.0 L448.9,389.0 L449.9,389.0 L450.9,389.0 L451.9,389.0 L452.9,389.0 L453.9,389.0 L454.9,389.0 L455.9,389.0 L456.9,389.0 L457.9,389.0 L458.9,389.0 L459.9,389.0 L460.9,389.0 L461.9,389.0 L462.9,389.0 L463.9,389.0 L464.9,389.0 L465.9,389.0 L466.9,389.0 L467.9,389.0 L468.9,389.0 L469.9,389.0 L470.9,389.0 L471.9,389.0 L472.9,389.0 L473.9,389.0 L474.9,389.0 L475.9,389.0 L476.9,389.0 L477.9,389.0 L478.9,389.0 L479.9,389.0 L480.9,389.0 L481.9,389.0 L482.9,389.0 L483.9,389.0 L484.9,389.0 L485.9,389.0 L486.9,389.0 L487.9,389.0 L488.9,389.0 L489.9,389.0 L490.9,389.0 L491.9,389.0 L492.9,389.0 L493.9,389.0 L494.9,389.0 L495.9,389.0 L496.9,389.0 L497.9,389.0 L498.9,389.0 L499.9,389.0 L500.9,389.0 L501.9,389.0 L502.9,389.0 L503.9,389.0 L504.9,389.0 L505.9,389.0 L506.9,389.0 L507.9,389.0 L508.9,389.0 L509.9,389.0 L511.0,389.0 L512.0,389.0 L513.0,389.0 L514.0,389.0 L515.0,389.0 L516.0,389.0 L517.0,389.0 L518.0,389.0 L519.0,389.0 L520.0,389.0 L521.0,389.0 L522.0,389.0 L523.0,389.0 L524.0,389.0 L525.0,389.0 L526.0,389.0 L527.0,389.0 L528.0,389.0 L529.0,389.0 L530.0,389.0 L531.0,389.0 L532.0,389.0 L533.0,389.0 L534.0,389.0 L535.0,389.0 L536.0,389.0 L537.0,389.0 L538.0,389.0 L539.0,389.0 L540.0,389.0 L541.0,389.0 L542.0,389.0 L543.0,389.0 L543.9,389.0 L544.9,389.0 L545.7,389.0 L546.4,389.0 L548.0,389.0" fill="none" stroke="#ff0000" stroke-width="1.95" stroke-linejoin="round" stroke-linecap="butt"/>
<path d="M149.5,335.2 L150.8,334.3 L151.3,333.8 L152.0,333.3 L152.6,332.6 L153.3,332.0 L153.9,331.2 L154.5,330.5 L155.1,329.7 L155.7,328.9 L156.3,328.0 L156.8,327.2 L157.3,326.3 L157.8,325.4 L158.3,324.5 L158.7,323.6 L159.2,322.7 L159.6,321.8 L160.0,320.8 L160.3,319.9 L160.7,319.0 L161.1,318.1 L161.4,317.1 L161.7,316.2 L162.0,315.3 L162.3,314.3 L162.6,313.3 L162.9,312.4 L163.2,311.4 L163.5,310.4 L163.7,309.5 L164.0,308.5 L164.3,307.5 L164.5,306.6 L164.8,305.6 L165.0,304.6 L165.3,303.6 L165.6,302.7 L165.8,301.7 L166.1,300.7 L166.3,299.7 L166.6,298.8 L166.8,297.8 L167.1,296.8 L167.4,295.9 L167.6,294.9 L167.9,293.9 L168.1,293.0 L168.4,292.0 L168.6,291.0 L168.9,290.0 L169.1,289.1 L169.4,288.1 L169.6,287.1 L169.8,286.2 L170.1,285.2 L170.3,284.2 L170.5,283.2 L170.7,282.3 L170.9,281.3 L171.1,280.3 L171.3,279.3 L171.5,278.3 L171.7,277.3 L171.9,276.4 L172.1,275.4 L172.2,274.4 L172.4,273.4 L172.6,272.4 L172.7,271.4 L172.9,270.4 L173.1,269.5 L173.2,268.5 L173.4,267.5 L173.5,266.5 L173.7,265.5 L173.9,264.5 L174.0,263.5 L174.2,262.5 L174.3,261.5 L174.5,260.6 L174.7,259.6 L174.8,258.6 L175.0,257.6 L175.2,256.6 L175.3,255.6 L175.5,254.6 L175.7,253.6 L175.9,252.7 L176.0,251.7 L176.2,250.7 L176.4,249.7 L176.5,248.7 L176.7,247.7 L176.9,246.7 L177.0,245.7 L177.2,244.8 L177.4,243.8 L177.5,242.8 L177.7,241.8 L177.9,240.8 L178.0,239.8 L178.2,238.8 L178.4,237.8 L178.6,236.9 L178.7,235.9 L178.9,234.9 L179.1,233.9 L179.2,232.9 L179.4,231.9 L179.6,230.9 L179.7,230.0 L179.9,229.0 L180.1,228.0 L180.2,227.0 L180.4,226.0 L180.6,225.0 L180.8,224.0 L180.9,223.0 L181.1,222.1 L181.3,221.1 L181.4,220.1 L181.6,219.1 L181.8,218.1 L181.9,217.1 L182.1,216.1 L182.3,215.1 L182.4,214.2 L182.6,213.2 L182.8,212.2 L182.9,211.2 L183.1,210.2 L183.3,209.2 L183.5,208.2 L183.6,207.2 L183.8,206.3 L184.0,205.3 L184.1,204.3 L184.3,203.3 L184.5,202.3 L184.6,201.3 L184.8,200.3 L185.0,199.3 L185.1,198.4 L185.3,197.4 L185.5,196.4 L185.6,195.4 L185.8,194.4 L186.0,193.4 L186.1,192.4 L186.3,191.4 L186.5,190.5 L186.6,189.5 L186.8,188.5 L187.0,187.5 L187.1,186.5 L187.3,185.5 L187.5,184.5 L187.6,183.6 L187.8,182.6 L188.0,181.6 L188.2,180.6 L188.3,179.6 L188.5,178.6 L188.7,177.6 L188.8,176.6 L189.0,175.7 L189.2,174.7 L189.3,173.7 L189.5,172.7 L189.7,171.7 L189.8,170.7 L190.0,169.7 L190.2,168.7 L190.3,167.8 L190.5,166.8 L190.7,165.8 L190.8,164.8 L191.0,163.8 L191.2,162.8 L191.3,161.8 L191.5,160.8 L191.7,159.9 L191.8,158.9 L192.0,157.9 L192.1,156.9 L192.3,155.9 L192.5,154.9 L192.6,153.9 L192.8,152.9 L193.0,151.9 L193.1,151.0 L193.3,150.0 L193.4,149.0 L193.6,148.0 L193.8,147.0 L193.9,146.0 L194.1,145.0 L194.3,144.0 L194.4,143.1 L194.6,142.1 L194.7,141.1 L194.9,140.1 L195.0,139.1 L195.2,138.1 L195.4,137.1 L195.5,136.1 L195.7,135.1 L195.8,134.2 L196.0,133.2 L196.1,132.2 L196.3,131.2 L196.4,130.2 L196.6,129.2 L196.7,128.2 L196.9,127.2 L197.0,126.2 L197.2,125.2 L197.3,124.3 L197.5,123.3 L197.6,122.3 L197.8,121.3 L197.9,120.3 L198.1,119.3 L198.2,118.3 L198.4,117.3 L198.5,116.3 L198.6,115.3 L198.8,114.3 L198.9,113.4 L199.1,112.4 L199.2,111.4 L199.4,110.4 L199.5,109.4 L199.6,108.4 L199.8,107.4 L199.9,106.4 L200.1,105.4 L200.2,104.4 L200.4,103.4 L200.5,102.4 L200.6,101.5 L200.8,100.5 L200.9,99.5 L201.1,98.5 L201.2,97.5 L201.4,96.5 L201.5,95.5 L201.7,94.5 L201.9,93.5 L202.0,92.5 L202.2,91.6 L202.3,90.6 L202.5,89.6 L202.6,88.6 L202.8,87.6 L202.9,86.6 L203.1,85.6 L203.3,84.6 L203.4,83.6 L203.6,82.7 L203.8,81.7 L203.9,80.7 L204.1,79.7 L204.3,78.7 L204.4,77.7 L204.6,76.7 L204.8,75.8 L205.0,74.8 L205.1,73.8 L205.3,72.8 L205.5,71.8 L205.7,70.8 L205.9,69.8 L206.0,68.9 L206.2,67.9 L206.4,66.9 L206.6,65.9 L206.8,64.9 L207.0,63.9 L207.2,63.0 L207.4,62.0 L207.6,61.0 L207.8,60.0 L208.1,59.0 L208.3,58.1 L208.5,57.1 L208.8,56.1 L209.0,55.1 L209.2,54.2 L209.5,53.2 L209.8,52.2 L210.1,51.3 L210.4,50.3 L210.8,49.3 L211.1,48.4 L211.5,47.4 L212.0,46.4 L212.4,45.5 L212.9,44.5 L213.4,43.6 L213.9,42.8 L214.5,42.0 L215.1,41.3 L215.7,40.7 L216.5,40.1 L217.2,39.6 L218.1,39.1 L219.0,38.7 L219.9,38.3 L220.9,38.0 L221.9,37.8 L222.9,37.6 L223.8,37.5 L224.8,37.6 L225.7,37.8 L226.7,38.1 L227.5,38.5 L228.3,39.0 L229.0,39.6 L229.7,40.3 L230.2,41.1 L230.7,41.9 L231.2,42.8 L231.5,43.7 L231.9,44.6 L232.2,45.6 L232.5,46.6 L232.8,47.6 L233.1,48.6 L233.3,49.6 L233.6,50.6 L233.8,51.6 L234.0,52.6 L234.2,53.5 L234.5,54.5 L234.6,55.5 L234.8,56.5 L235.0,57.5 L235.2,58.5 L235.4,59.4 L235.5,60.4 L235.7,61.4 L235.8,62.4 L236.0,63.4 L236.1,64.4 L236.3,65.4 L236.4,66.4 L236.5,67.4 L236.7,68.4 L236.8,69.4 L236.9,70.4 L237.0,71.3 L237.2,72.3 L237.3,73.3 L237.4,74.3 L237.5,75.3 L237.6,76.3 L237.8,77.3 L237.9,78.3 L238.0,79.3 L238.1,80.3 L238.2,81.3 L238.3,82.3 L238.4,83.3 L238.5,84.3 L238.6,85.3 L238.8,86.3 L238.9,87.3 L239.0,88.3 L239.1,89.3 L239.2,90.3 L239.3,91.3 L239.4,92.3 L239.5,93.2 L239.6,94.2 L239.7,95.2 L239.8,96.2 L239.9,97.2 L240.0,98.2 L240.1,99.2 L240.2,100.2 L240.3,101.2 L240.4,102.2 L240.5,103.2 L240.6,104.2 L240.7,105.2 L240.8,106.2 L240.9,107.2 L241.0,108.2 L241.1,109.2 L241.2,110.2 L241.3,111.2 L241.4,112.2 L241.5,113.2 L241.6,114.2 L241.7,115.2 L241.8,116.2 L241.9,117.2 L242.0,118.2 L242.1,119.2 L242.2,120.2 L242.3,121.1 L242.4,122.1 L242.4,123.1 L242.5,124.1 L242.6,125.1 L242.7,126.1 L242.8,127.1 L242.9,128.1 L243.0,129.1 L243.1,130.1 L243.2,131.1 L243.3,132.1 L243.3,133.1 L243.4,134.1 L243.5,135.1 L243.6,136.1 L243.7,137.1 L243.8,138.1 L243.9,139.1 L244.0,140.1 L244.1,141.1 L244.2,142.1 L244.3,143.1 L244.4,144.1 L244.5,145.1 L244.6,146.1 L244.8,147.1 L244.9,148.1 L245.0,149.1 L245.1,150.1 L245.2,151.0 L245.3,152.0 L245.4,153.0 L245.5,154.0 L245.6,155.0 L245.8,156.0 L245.9,157.0 L246.0,158.0 L246.1,159.0 L246.2,160.0 L246.3,161.0 L246.4,162.0 L246.5,163.0 L246.6,164.0 L246.7,165.0 L246.8,166.0 L246.9,167.0 L247.0,168.0 L247.1,169.0 L247.2,170.0 L247.3,171.0 L247.4,172.0 L247.5,173.0 L247.6,174.0 L247.7,175.0 L247.8,175.9 L247.9,176.9 L248.0,177.9 L248.1,178.9 L248.2,179.9 L248.3,180.9 L248.4,181.9 L248.5,182.9 L248.5,183.9 L248.6,184.9 L248.7,185.9 L248.8,186.9 L248.9,187.9 L249.0,188.9 L249.1,189.9 L249.2,190.9 L249.3,191.9 L249.4,192.9 L249.5,193.9 L249.5,194.9 L249.6,195.9 L249.7,196.9 L249.8,197.9 L249.9,198.9 L250.0,199.9 L250.0,200.9 L250.1,201.9 L250.2,202.9 L250.3,203.9 L250.4,204.9 L250.4,205.9 L250.5,206.9 L250.6,207.9 L250.7,208.9 L250.7,209.9 L250.8,210.9 L250.9,211.9 L251.0,212.9 L251.0,213.9 L251.1,214.9 L251.2,215.9 L251.2,216.9 L251.3,217.9 L251.4,218.9 L251.4,219.9 L251.5,220.9 L251.6,221.9 L251.6,222.9 L251.7,223.9 L251.8,224.9 L251.8,225.9 L251.9,226.9 L252.0,227.9 L252.0,228.9 L252.1,229.9 L252.2,230.9 L252.2,231.9 L252.3,232.9 L252.4,233.9 L252.4,234.9 L252.5,235.9 L252.6,236.9 L252.7,237.9 L252.7,238.9 L252.8,239.9 L252.9,240.9 L253.0,241.9 L253.0,242.8 L253.1,243.8 L253.2,244.8 L253.3,245.8 L253.3,246.8 L253.4,247.8 L253.5,248.8 L253.6,249.8 L253.7,250.8 L253.7,251.8 L253.8,252.8 L253.9,253.8 L254.0,254.8 L254.1,255.8 L254.2,256.8 L254.3,257.8 L254.4,258.8 L254.5,259.8 L254.6,260.8 L254.7,261.8 L254.8,262.8 L254.9,263.8 L255.1,264.8 L255.2,265.8 L255.3,266.8 L255.4,267.8 L255.6,268.7 L255.7,269.7 L255.8,270.7 L256.0,271.7 L256.1,272.7 L256.2,273.7 L256.4,274.7 L256.5,275.7 L256.6,276.7 L256.8,277.7 L256.9,278.7 L257.0,279.7 L257.2,280.7 L257.3,281.7 L257.4,282.6 L257.5,283.6 L257.6,284.6 L257.8,285.6 L257.9,286.6 L258.0,287.6 L258.1,288.6 L258.2,289.6 L258.3,290.6 L258.5,291.6 L258.6,292.6 L258.7,293.6 L258.8,294.6 L258.9,295.6 L259.1,296.6 L259.2,297.6 L259.3,298.6 L259.4,299.6 L259.5,300.5 L259.7,301.5 L259.8,302.5 L259.9,303.5 L260.1,304.5 L260.2,305.5 L260.3,306.5 L260.4,307.5 L260.6,308.5 L260.7,309.5 L260.8,310.5 L261.0,311.5 L261.1,312.5 L261.2,313.5 L261.4,314.4 L261.5,315.4 L261.6,316.4 L261.8,317.4 L261.9,318.4 L262.1,319.4 L262.2,320.4 L262.3,321.4 L262.5,322.4 L262.6,323.4 L262.8,324.4 L262.9,325.4 L263.0,326.3 L263.2,327.3 L263.3,328.3 L263.5,329.3 L263.6,330.3 L263.8,331.3 L263.9,332.3 L264.1,333.3 L264.2,334.3 L264.4,335.3 L264.5,336.3 L264.7,337.2 L264.8,338.2 L265.0,339.2 L265.2,340.2 L265.3,341.2 L265.5,342.2 L265.7,343.2 L265.8,344.2 L266.0,345.2 L266.2,346.1 L266.4,347.1 L266.5,348.1 L266.7,349.1 L266.9,350.1 L267.1,351.1 L267.3,352.1 L267.5,353.0 L267.7,354.0 L267.9,355.0 L268.1,356.0 L268.3,357.0 L268.6,357.9 L268.8,358.9 L269.0,359.9 L269.3,360.8 L269.5,361.8 L269.8,362.8 L270.1,363.8 L270.4,364.7 L270.7,365.7 L271.0,366.7 L271.3,367.7 L271.6,368.6 L272.0,369.6 L272.3,370.6 L272.7,371.5 L273.1,372.4 L273.5,373.3 L273.9,374.2 L274.4,375.1 L274.9,375.9 L275.4,376.7 L275.9,377.6 L276.5,378.4 L277.1,379.2 L277.7,380.0 L278.4,380.7 L279.2,381.5 L279.9,382.2 L280.7,382.8 L281.5,383.4 L282.3,383.9 L283.1,384.4 L284.0,384.8 L284.9,385.2 L285.8,385.5 L286.7,385.9 L287.7,386.1 L288.7,386.4 L289.7,386.6 L290.7,386.8 L291.7,387.0 L292.7,387.2 L293.7,387.4 L294.7,387.5 L295.7,387.6 L296.7,387.8 L297.6,387.9 L298.6,388.0 L299.6,388.1 L300.6,388.2 L301.6,388.3 L302.6,388.3 L303.6,388.4 L304.6,388.5 L305.6,388.5 L306.7,388.6 L307.7,388.6 L308.7,388.6 L309.7,388.7 L310.7,388.7 L311.7,388.7 L312.7,388.7 L313.7,388.7 L314.7,388.7 L315.7,388.7 L316.7,388.7 L317.7,388.7 L318.7,388.7 L319.7,388.7 L320.7,388.7 L321.7,388.7 L322.7,388.7 L323.7,388.7 L324.7,388.7 L325.7,388.7 L326.7,388.8 L327.7,388.8 L328.7,388.8 L329.7,388.8 L330.7,388.8 L331.7,388.8 L332.7,388.8 L333.7,388.8 L334.7,388.8 L335.7,388.8 L336.7,388.8 L337.7,388.8 L338.7,388.8 L339.7,388.8 L340.7,388.8 L341.7,388.8 L342.7,388.8 L343.7,388.8 L344.7,388.8 L345.7,388.8 L346.7,388.8 L347.7,388.8 L348.7,388.8 L349.7,388.8 L350.7,388.8 L351.7,388.8 L352.7,388.8 L353.7,388.8 L354.7,388.8 L355.7,388.8 L356.7,388.8 L357.7,388.8 L358.7,388.8 L359.7,388.8 L360.7,388.8 L361.7,388.8 L362.7,388.8 L363.7,388.8 L364.7,388.9 L365.7,388.9 L366.7,388.9 L367.7,388.9 L368.7,388.9 L369.7,388.9 L370.7,388.9 L371.7,388.9 L372.7,388.9 L373.7,388.9 L374.7,388.9 L375.7,388.9 L376.7,388.9 L377.7,388.9 L378.7,388.9 L379.7,388.9 L380.7,388.9 L381.7,388.9 L382.7,388.9 L383.7,388.9 L384.7,388.9 L385.7,388.9 L386.7,388.9 L387.7,388.9 L388.7,388.9 L389.7,388.9 L390.7,388.9 L391.7,388.9 L392.7,388.9 L393.7,388.9 L394.7,388.9 L395.7,388.9 L396.7,388.9 L397.7,388.9 L398.7,388.9 L399.7,388.9 L400.7,388.9 L401.7,388.9 L402.7,388.9 L403.7,388.9 L404.7,388.9 L405.7,388.9 L406.7,388.9 L407.7,388.9 L408.7,388.9 L409.7,388.9 L410.7,388.9 L411.7,388.9 L412.7,388.9 L413.7,388.9 L414.7,388.9 L415.7,388.9 L416.7,388.9 L417.7,388.9 L418.7,388.9 L419.7,388.9 L420.7,388.9 L421.7,388.9 L422.7,388.9 L423.7,388.9 L424.7,388.9 L425.7,388.9 L426.7,389.0 L427.7,389.0 L428.7,389.0 L429.7,389.0 L430.7,389.0 L431.7,389.0 L432.7,389.0 L433.7,389.0 L434.7,389.0 L435.7,389.0 L436.7,389.0 L437.7,389.0 L438.7,389.0 L439.7,389.0 L440.7,389.0 L441.7,389.0 L442.7,389.0 L443.7,389.0 L444.7,389.0 L445.7,389.0 L446.7,389.0 L447.7,389.0 L448.7,389.0 L449.7,389.0 L450.7,389.0 L451.7,389.0 L452.7,389.0 L453.7,389.0 L454.7,389.0 L455.7,389.0 L456.7,389.0 L457.7,389.0 L458.7,389.0 L459.7,389.0 L460.7,389.0 L461.8,389.0 L462.8,389.0 L463.8,389.0 L464.8,389.0 L465.8,389.0 L466.8,389.0 L467.8,389.0 L468.8,389.0 L469.8,389.0 L470.8,389.0 L471.8,389.0 L472.8,389.0 L473.8,389.0 L474.8,389.0 L475.8,389.0 L476.8,389.0 L477.8,389.0 L478.8,389.0 L479.8,389.0 L480.8,389.0 L481.8,389.0 L482.8,389.0 L483.8,389.0 L484.8,389.0 L485.8,389.0 L486.8,389.0 L487.8,389.0 L488.8,389.0 L489.8,389.0 L490.8,389.0 L491.8,389.0 L492.8,389.0 L493.8,389.0 L494.8,389.0 L495.8,389.0 L496.8,389.0 L497.8,389.0 L498.8,389.0 L499.8,389.0 L500.8,389.0 L501.8,389.0 L502.8,389.0 L503.8,389.0 L504.9,389.0 L505.9,389.0 L506.9,389.0 L507.9,389.0 L508.9,389.0 L509.9,389.0 L510.9,389.0 L511.9,389.0 L512.9,389.0 L513.9,389.0 L514.9,389.0 L515.9,389.0 L516.9,389.0 L517.9,389.0 L518.9,389.0 L519.9,389.0 L520.9,389.0 L521.9,389.0 L522.9,389.0 L523.9,389.0 L524.9,389.0 L525.9,389.0 L526.9,389.0 L527.9,389.0 L528.9,389.0 L529.9,389.0 L530.9,389.0 L531.9,389.0 L532.9,389.0 L533.9,389.0 L535.0,389.0 L536.0,389.0 L537.0,389.0 L538.0,389.0 L539.0,389.0 L540.0,389.0 L541.0,389.0 L542.0,389.0 L543.0,389.0 L543.9,389.0 L544.9,389.0 L545.7,389.0 L546.4,389.0 L548.0,389.0" fill="none" stroke="#7f00ff" stroke-width="1.95" stroke-linejoin="round" stroke-linecap="butt"/>
<path d="M146.7,358.2 L147.7,357.0 L148.1,356.4 L148.7,355.7 L149.2,355.0 L149.8,354.2 L150.4,353.4 L151.0,352.6 L151.5,351.8 L152.1,351.0 L152.7,350.1 L153.2,349.3 L153.7,348.4 L154.3,347.6 L154.8,346.7 L155.3,345.9 L155.8,345.0 L156.3,344.1 L156.7,343.2 L157.2,342.3 L157.6,341.4 L158.0,340.5 L158.4,339.6 L158.8,338.7 L159.2,337.8 L159.5,336.9 L159.9,335.9 L160.2,335.0 L160.5,334.0 L160.8,333.1 L161.2,332.1 L161.5,331.2 L161.8,330.2 L162.1,329.2 L162.3,328.3 L162.6,327.3 L162.9,326.3 L163.2,325.4 L163.5,324.4 L163.7,323.4 L164.0,322.5 L164.3,321.5 L164.6,320.5 L164.8,319.6 L165.1,318.6 L165.4,317.6 L165.6,316.7 L165.9,315.7 L166.1,314.7 L166.4,313.8 L166.6,312.8 L166.9,311.8 L167.1,310.9 L167.4,309.9 L167.6,308.9 L167.9,307.9 L168.1,307.0 L168.3,306.0 L168.5,305.0 L168.8,304.0 L169.0,303.1 L169.2,302.1 L169.4,301.1 L169.6,300.1 L169.8,299.1 L170.0,298.2 L170.2,297.2 L170.4,296.2 L170.6,295.2 L170.8,294.2 L170.9,293.2 L171.1,292.3 L171.3,291.3 L171.5,290.3 L171.7,289.3 L171.8,288.3 L172.0,287.3 L172.2,286.3 L172.3,285.3 L172.5,284.4 L172.7,283.4 L172.8,282.4 L173.0,281.4 L173.1,280.4 L173.3,279.4 L173.5,278.4 L173.6,277.4 L173.8,276.4 L173.9,275.5 L174.1,274.5 L174.2,273.5 L174.4,272.5 L174.5,271.5 L174.7,270.5 L174.8,269.5 L175.0,268.5 L175.1,267.5 L175.3,266.5 L175.4,265.5 L175.5,264.6 L175.7,263.6 L175.8,262.6 L176.0,261.6 L176.1,260.6 L176.3,259.6 L176.4,258.6 L176.5,257.6 L176.7,256.6 L176.8,255.6 L177.0,254.6 L177.1,253.6 L177.3,252.7 L177.4,251.7 L177.5,250.7 L177.7,249.7 L177.8,248.7 L178.0,247.7 L178.1,246.7 L178.3,245.7 L178.4,244.7 L178.5,243.7 L178.7,242.7 L178.8,241.7 L179.0,240.8 L179.1,239.8 L179.2,238.8 L179.4,237.8 L179.5,236.8 L179.7,235.8 L179.8,234.8 L180.0,233.8 L180.1,232.8 L180.2,231.8 L180.4,230.8 L180.5,229.8 L180.7,228.9 L180.8,227.9 L181.0,226.9 L181.1,225.9 L181.2,224.9 L181.4,223.9 L181.5,222.9 L181.7,221.9 L181.8,220.9 L182.0,219.9 L182.1,218.9 L182.3,218.0 L182.4,217.0 L182.6,216.0 L182.7,215.0 L182.8,214.0 L183.0,213.0 L183.1,212.0 L183.3,211.0 L183.4,210.0 L183.6,209.0 L183.7,208.0 L183.9,207.1 L184.0,206.1 L184.2,205.1 L184.3,204.1 L184.5,203.1 L184.6,202.1 L184.8,201.1 L184.9,200.1 L185.1,199.1 L185.2,198.1 L185.4,197.1 L185.5,196.2 L185.7,195.2 L185.8,194.2 L186.0,193.2 L186.1,192.2 L186.3,191.2 L186.4,190.2 L186.6,189.2 L186.7,188.2 L186.8,187.2 L187.0,186.3 L187.1,185.3 L187.3,184.3 L187.4,183.3 L187.6,182.3 L187.7,181.3 L187.9,180.3 L188.0,179.3 L188.2,178.3 L188.3,177.3 L188.5,176.3 L188.6,175.4 L188.8,174.4 L188.9,173.4 L189.1,172.4 L189.2,171.4 L189.4,170.4 L189.5,169.4 L189.7,168.4 L189.8,167.4 L190.0,166.4 L190.1,165.4 L190.2,164.5 L190.4,163.5 L190.5,162.5 L190.7,161.5 L190.8,160.5 L191.0,159.5 L191.1,158.5 L191.3,157.5 L191.4,156.5 L191.6,155.5 L191.7,154.6 L191.9,153.6 L192.0,152.6 L192.2,151.6 L192.4,150.6 L192.5,149.6 L192.7,148.6 L192.8,147.6 L192.9,146.6 L193.1,145.6 L193.2,144.6 L193.4,143.7 L193.5,142.7 L193.7,141.7 L193.8,140.7 L193.9,139.7 L194.1,138.7 L194.2,137.7 L194.3,136.7 L194.4,135.7 L194.6,134.7 L194.7,133.7 L194.8,132.7 L194.9,131.7 L195.0,130.7 L195.2,129.7 L195.3,128.7 L195.4,127.8 L195.5,126.8 L195.6,125.8 L195.8,124.8 L195.9,123.8 L196.0,122.8 L196.1,121.8 L196.3,120.8 L196.4,119.8 L196.5,118.8 L196.7,117.8 L196.8,116.8 L197.0,115.8 L197.1,114.8 L197.2,113.9 L197.4,112.9 L197.5,111.9 L197.7,110.9 L197.8,109.9 L198.0,108.9 L198.1,107.9 L198.3,106.9 L198.5,105.9 L198.6,104.9 L198.8,104.0 L198.9,103.0 L199.1,102.0 L199.2,101.0 L199.4,100.0 L199.5,99.0 L199.7,98.0 L199.8,97.0 L200.0,96.0 L200.1,95.0 L200.3,94.0 L200.4,93.1 L200.6,92.1 L200.7,91.1 L200.9,90.1 L201.0,89.1 L201.2,88.1 L201.3,87.1 L201.5,86.1 L201.6,85.1 L201.8,84.1 L201.9,83.2 L202.1,82.2 L202.3,81.2 L202.4,80.2 L202.6,79.2 L202.7,78.2 L202.9,77.2 L203.1,76.2 L203.2,75.2 L203.4,74.3 L203.6,73.3 L203.7,72.3 L203.9,71.3 L204.1,70.3 L204.3,69.3 L204.4,68.3 L204.6,67.4 L204.8,66.4 L205.0,65.4 L205.2,64.4 L205.4,63.4 L205.6,62.4 L205.8,61.4 L206.0,60.5 L206.2,59.5 L206.4,58.5 L206.6,57.5 L206.8,56.5 L207.0,55.6 L207.3,54.6 L207.5,53.6 L207.8,52.6 L208.0,51.7 L208.3,50.7 L208.6,49.7 L208.8,48.7 L209.1,47.7 L209.5,46.7 L209.8,45.7 L210.1,44.8 L210.5,43.8 L210.9,42.9 L211.4,42.1 L211.9,41.3 L212.5,40.5 L213.1,39.8 L213.8,39.2 L214.6,38.7 L215.5,38.2 L216.4,37.9 L217.3,37.7 L218.2,37.7 L219.2,37.8 L220.1,38.0 L221.0,38.4 L221.9,38.8 L222.7,39.3 L223.5,39.9 L224.2,40.6 L224.8,41.3 L225.4,42.0 L225.9,42.8 L226.4,43.7 L226.9,44.6 L227.3,45.5 L227.7,46.5 L228.1,47.5 L228.5,48.5 L228.8,49.4 L229.1,50.4 L229.4,51.4 L229.7,52.3 L230.0,53.3 L230.2,54.3 L230.4,55.3 L230.7,56.2 L230.9,57.2 L231.1,58.2 L231.3,59.2 L231.5,60.2 L231.7,61.1 L231.8,62.1 L232.0,63.1 L232.2,64.1 L232.4,65.1 L232.5,66.1 L232.7,67.1 L232.8,68.1 L233.0,69.1 L233.1,70.0 L233.3,71.0 L233.4,72.0 L233.6,73.0 L233.7,74.0 L233.8,75.0 L234.0,76.0 L234.1,77.0 L234.2,78.0 L234.3,79.0 L234.5,80.0 L234.6,81.0 L234.7,82.0 L234.8,83.0 L234.9,84.0 L235.0,85.0 L235.1,86.0 L235.2,86.9 L235.3,87.9 L235.4,88.9 L235.5,89.9 L235.6,90.9 L235.7,91.9 L235.8,92.9 L235.9,93.9 L236.0,94.9 L236.1,95.9 L236.2,96.9 L236.3,97.9 L236.4,98.9 L236.5,99.9 L236.6,100.9 L236.7,101.9 L236.8,102.9 L236.8,103.9 L236.9,104.9 L237.0,105.9 L237.1,106.9 L237.2,107.9 L237.3,108.9 L237.4,109.9 L237.5,110.9 L237.6,111.9 L237.7,112.9 L237.8,113.9 L237.9,114.9 L238.0,115.9 L238.1,116.9 L238.2,117.9 L238.3,118.9 L238.4,119.9 L238.5,120.8 L238.6,121.8 L238.7,122.8 L238.8,123.8 L238.9,124.8 L239.0,125.8 L239.1,126.8 L239.2,127.8 L239.3,128.8 L239.4,129.8 L239.5,130.8 L239.6,131.8 L239.7,132.8 L239.8,133.8 L239.9,134.8 L240.0,135.8 L240.1,136.8 L240.2,137.8 L240.3,138.8 L240.4,139.8 L240.5,140.8 L240.5,141.8 L240.6,142.8 L240.7,143.8 L240.8,144.8 L240.9,145.8 L241.0,146.8 L241.0,147.8 L241.1,148.8 L241.2,149.8 L241.3,150.8 L241.4,151.8 L241.4,152.8 L241.5,153.8 L241.6,154.8 L241.7,155.8 L241.7,156.8 L241.8,157.8 L241.9,158.8 L242.0,159.8 L242.1,160.8 L242.1,161.8 L242.2,162.8 L242.3,163.8 L242.4,164.8 L242.5,165.8 L242.5,166.8 L242.6,167.7 L242.7,168.7 L242.8,169.7 L242.9,170.7 L242.9,171.7 L243.0,172.7 L243.1,173.7 L243.2,174.7 L243.3,175.7 L243.3,176.7 L243.4,177.7 L243.5,178.7 L243.6,179.7 L243.6,180.7 L243.7,181.7 L243.8,182.7 L243.9,183.7 L243.9,184.7 L244.0,185.7 L244.1,186.7 L244.1,187.7 L244.2,188.7 L244.3,189.7 L244.3,190.7 L244.4,191.7 L244.5,192.7 L244.5,193.7 L244.6,194.7 L244.7,195.7 L244.7,196.7 L244.8,197.7 L244.9,198.7 L245.0,199.7 L245.0,200.7 L245.1,201.7 L245.2,202.7 L245.3,203.7 L245.3,204.7 L245.4,205.7 L245.5,206.7 L245.6,207.7 L245.7,208.7 L245.7,209.7 L245.8,210.7 L245.9,211.7 L246.0,212.7 L246.1,213.7 L246.1,214.7 L246.2,215.7 L246.3,216.7 L246.4,217.7 L246.5,218.7 L246.5,219.7 L246.6,220.7 L246.7,221.7 L246.8,222.7 L246.9,223.7 L246.9,224.7 L247.0,225.7 L247.1,226.7 L247.2,227.7 L247.3,228.7 L247.4,229.7 L247.4,230.7 L247.5,231.7 L247.6,232.7 L247.7,233.7 L247.8,234.7 L247.8,235.7 L247.9,236.7 L248.0,237.7 L248.1,238.7 L248.1,239.7 L248.2,240.7 L248.3,241.7 L248.3,242.7 L248.4,243.7 L248.5,244.7 L248.6,245.7 L248.6,246.7 L248.7,247.7 L248.7,248.7 L248.8,249.7 L248.9,250.7 L248.9,251.7 L249.0,252.7 L249.1,253.7 L249.1,254.7 L249.2,255.7 L249.3,256.7 L249.3,257.7 L249.4,258.7 L249.5,259.6 L249.6,260.6 L249.6,261.6 L249.7,262.6 L249.8,263.6 L249.9,264.6 L249.9,265.6 L250.0,266.6 L250.1,267.6 L250.2,268.6 L250.2,269.6 L250.3,270.6 L250.4,271.6 L250.5,272.6 L250.6,273.6 L250.7,274.6 L250.7,275.6 L250.8,276.6 L250.9,277.6 L251.0,278.6 L251.1,279.6 L251.1,280.6 L251.2,281.6 L251.3,282.6 L251.4,283.6 L251.5,284.6 L251.5,285.6 L251.6,286.6 L251.7,287.6 L251.8,288.6 L251.8,289.6 L251.9,290.6 L252.0,291.6 L252.1,292.6 L252.2,293.6 L252.2,294.6 L252.3,295.6 L252.4,296.6 L252.5,297.6 L252.6,298.6 L252.7,299.6 L252.7,300.6 L252.8,301.6 L252.9,302.6 L253.0,303.6 L253.1,304.6 L253.2,305.6 L253.2,306.6 L253.3,307.6 L253.4,308.6 L253.5,309.6 L253.6,310.6 L253.7,311.6 L253.8,312.6 L253.9,313.6 L254.0,314.6 L254.1,315.6 L254.1,316.6 L254.2,317.6 L254.3,318.6 L254.4,319.5 L254.5,320.5 L254.6,321.5 L254.7,322.5 L254.8,323.5 L254.9,324.5 L255.0,325.5 L255.1,326.5 L255.2,327.5 L255.3,328.5 L255.4,329.5 L255.4,330.5 L255.5,331.5 L255.6,332.5 L255.7,333.5 L255.8,334.5 L255.9,335.5 L256.1,336.5 L256.2,337.5 L256.3,338.5 L256.4,339.5 L256.5,340.5 L256.6,341.5 L256.7,342.5 L256.9,343.5 L257.0,344.5 L257.1,345.5 L257.2,346.5 L257.4,347.4 L257.5,348.4 L257.7,349.4 L257.8,350.4 L257.9,351.4 L258.1,352.4 L258.2,353.4 L258.4,354.4 L258.6,355.4 L258.7,356.4 L258.9,357.4 L259.1,358.3 L259.3,359.3 L259.5,360.3 L259.7,361.3 L259.9,362.3 L260.1,363.3 L260.3,364.2 L260.5,365.2 L260.8,366.2 L261.0,367.2 L261.3,368.2 L261.6,369.2 L261.8,370.1 L262.1,371.1 L262.5,372.1 L262.8,373.0 L263.1,373.9 L263.5,374.8 L263.9,375.7 L264.3,376.6 L264.7,377.5 L265.2,378.4 L265.7,379.3 L266.3,380.2 L266.9,381.0 L267.5,381.8 L268.1,382.6 L268.8,383.3 L269.5,383.9 L270.3,384.5 L271.1,385.1 L271.9,385.6 L272.8,386.0 L273.7,386.4 L274.7,386.8 L275.6,387.1 L276.6,387.4 L277.6,387.6 L278.6,387.8 L279.5,388.0 L280.5,388.1 L281.5,388.2 L282.5,388.3 L283.5,388.4 L284.5,388.5 L285.5,388.5 L286.5,388.6 L287.5,388.6 L288.5,388.6 L289.6,388.7 L290.6,388.7 L291.6,388.7 L292.6,388.7 L293.6,388.7 L294.6,388.7 L295.6,388.7 L296.6,388.7 L297.6,388.7 L298.6,388.7 L299.6,388.7 L300.6,388.7 L301.6,388.7 L302.6,388.7 L303.6,388.7 L304.6,388.7 L305.6,388.7 L306.6,388.7 L307.6,388.8 L308.6,388.8 L309.6,388.8 L310.6,388.8 L311.6,388.8 L312.6,388.8 L313.6,388.8 L314.6,388.8 L315.6,388.8 L316.6,388.8 L317.6,388.8 L318.6,388.8 L319.6,388.8 L320.6,388.8 L321.6,388.8 L322.6,388.8 L323.6,388.8 L324.6,388.8 L325.6,388.8 L326.6,388.8 L327.6,388.8 L328.6,388.8 L329.6,388.8 L330.6,388.8 L331.6,388.8 L332.6,388.8 L333.6,388.8 L334.6,388.8 L335.6,388.8 L336.6,388.8 L337.6,388.8 L338.6,388.8 L339.6,388.8 L340.6,388.8 L341.6,388.8 L342.6,388.8 L343.6,388.8 L344.6,388.8 L345.6,388.8 L346.6,388.8 L347.6,388.9 L348.6,388.9 L349.6,388.9 L350.6,388.9 L351.6,388.9 L352.6,388.9 L353.6,388.9 L354.6,388.9 L355.6,388.9 L356.6,388.9 L357.6,388.9 L358.6,388.9 L359.6,388.9 L360.6,388.9 L361.6,388.9 L362.6,388.9 L363.6,388.9 L364.6,388.9 L365.6,388.9 L366.6,388.9 L367.6,388.9 L368.6,388.9 L369.6,388.9 L370.6,388.9 L371.6,388.9 L372.6,388.9 L373.6,388.9 L374.6,388.9 L375.6,388.9 L376.6,388.9 L377.6,388.9 L378.6,388.9 L379.6,388.9 L380.6,388.9 L381.6,388.9 L382.6,388.9 L383.6,388.9 L384.6,388.9 L385.6,388.9 L386.6,388.9 L387.6,388.9 L388.6,388.9 L389.6,388.9 L390.6,388.9 L391.6,388.9 L392.6,388.9 L393.6,388.9 L394.6,388.9 L395.6,388.9 L396.6,388.9 L397.6,388.9 L398.6,388.9 L399.6,388.9 L400.6,388.9 L401.6,388.9 L402.6,388.9 L403.6,388.9 L404.6,388.9 L405.6,388.9 L406.6,388.9 L407.7,388.9 L408.7,388.9 L409.7,388.9 L410.7,388.9 L411.7,388.9 L412.7,388.9 L413.7,388.9 L414.7,388.9 L415.7,389.0 L416.7,389.0 L417.7,389.0 L418.7,389.0 L419.7,389.0 L420.7,389.0 L421.7,389.0 L422.7,389.0 L423.7,389.0 L424.7,389.0 L425.7,389.0 L426.7,389.0 L427.7,389.0 L428.7,389.0 L429.7,389.0 L430.7,389.0 L431.7,389.0 L432.7,389.0 L433.7,389.0 L434.7,389.0 L435.7,389.0 L436.7,389.0 L437.7,389.0 L438.7,389.0 L439.7,389.0 L440.7,389.0 L441.7,389.0 L442.7,389.0 L443.7,389.0 L444.7,389.0 L445.7,389.0 L446.7,389.0 L447.7,389.0 L448.7,389.0 L449.7,389.0 L450.7,389.0 L451.7,389.0 L452.7,389.0 L453.7,389.0 L454.7,389.0 L455.7,389.0 L456.7,389.0 L457.7,389.0 L458.7,389.0 L459.7,389.0 L460.7,389.0 L461.7,389.0 L462.7,389.0 L463.8,389.0 L464.8,389.0 L465.8,389.0 L466.8,389.0 L467.8,389.0 L468.8,389.0 L469.8,389.0 L470.8,389.0 L471.8,389.0 L472.8,389.0 L473.8,389.0 L474.8,389.0 L475.8,389.0 L476.8,389.0 L477.8,389.0 L478.8,389.0 L479.8,389.0 L480.8,389.0 L481.8,389.0 L482.8,389.0 L483.8,389.0 L484.8,389.0 L485.8,389.0 L486.8,389.0 L487.8,389.0 L488.8,389.0 L489.8,389.0 L490.8,389.0 L491.8,389.0 L492.8,389.0 L493.8,389.0 L494.8,389.0 L495.8,389.0 L496.8,389.0 L497.8,389.0 L498.8,389.0 L499.8,389.0 L500.8,389.0 L501.8,389.0 L502.8,389.0 L503.9,389.0 L504.9,389.0 L505.9,389.0 L506.9,389.0 L507.9,389.0 L508.9,389.0 L509.9,389.0 L510.9,389.0 L511.9,389.0 L512.9,389.0 L513.9,389.0 L514.9,389.0 L515.9,389.0 L516.9,389.0 L517.9,389.0 L518.9,389.0 L519.9,389.0 L520.9,389.0 L521.9,389.0 L522.9,389.0 L523.9,389.0 L524.9,389.0 L525.9,389.0 L526.9,389.0 L527.9,389.0 L528.9,389.0 L529.9,389.0 L530.9,389.0 L531.9,389.0 L532.9,389.0 L533.9,389.0 L535.0,389.0 L536.0,389.0 L537.0,389.0 L538.0,389.0 L539.0,389.0 L540.0,389.0 L541.0,389.0 L542.0,389.0 L543.0,389.0 L543.9,389.0 L544.9,389.0 L545.7,389.0 L546.4,389.0 L548.0,389.0" fill="none" stroke="#0000ff" stroke-width="1.95" stroke-linejoin="round" stroke-linecap="butt"/>
<path d="M291,388.6 L300,388.9 L548,389" fill="none" stroke="#7f00ff" stroke-width="1.95" stroke-linejoin="round" stroke-linecap="butt"/>
<rect x="71" y="1.8" width="524" height="422.59999999999997" fill="none" stroke="#000" stroke-width="1.4"/>
<text class="tk" x="71.0" y="450.2" text-anchor="middle">300</text>
<text class="tk" x="166.3" y="450.2" text-anchor="middle">400</text>
<text class="tk" x="261.7" y="450.2" text-anchor="middle">500</text>
<text class="tk" x="357.0" y="450.2" text-anchor="middle">600</text>
<text class="tk" x="452.3" y="450.2" text-anchor="middle">700</text>
<text class="tk" x="547.6" y="450.2" text-anchor="middle">800</text>
<text class="tk" x="60.8" y="396.3" text-anchor="end">0.0</text>
<text class="tk" x="60.8" y="325.8" text-anchor="end">0.2</text>
<text class="tk" x="60.8" y="255.3" text-anchor="end">0.4</text>
<text class="tk" x="60.8" y="184.7" text-anchor="end">0.6</text>
<text class="tk" x="60.8" y="114.2" text-anchor="end">0.8</text>
<text class="tk" x="60.8" y="43.7" text-anchor="end">1.0</text>
<path d="M71.00,424.4 v-7.6 M118.66,424.4 v-4 M166.33,424.4 v-7.6 M213.99,424.4 v-4 M261.66,424.4 v-7.6 M309.32,424.4 v-4 M356.99,424.4 v-7.6 M404.66,424.4 v-4 M452.32,424.4 v-7.6 M499.99,424.4 v-4 M547.65,424.4 v-7.6 M71,389.60 h7.6 M71,354.34 h4 M71,319.08 h7.6 M71,283.82 h4 M71,248.56 h7.6 M71,213.30 h4 M71,178.04 h7.6 M71,142.78 h4 M71,107.52 h7.6 M71,72.26 h4 M71,37.00 h7.6" fill="none" stroke="#000" stroke-width="1.3"/>
<text class="lb" style="font-size:22px" transform="translate(16.8,212.7) rotate(-90)" text-anchor="middle">Normalized UV-vis absorbance</text>
<text class="lb" x="333" y="480.3" text-anchor="middle">Wavelength / nm</text>
<text class="ti" style="font-size:22px" x="91.5" y="25"><tspan class="rg">(</tspan>a<tspan class="rg">)</tspan>UV</text>
<rect x="499.1" y="1.8" width="95.89999999999998" height="112.9" fill="#fff" stroke="#000" stroke-width="1"/>
<path d="M501.2,16.6 H544.4" stroke="#000000" stroke-width="1.9" fill="none"/>
<text class="lg" x="553.9" y="23.6">4a</text>
<path d="M501.2,44.3 H544.4" stroke="#7f00ff" stroke-width="1.9" fill="none"/>
<text class="lg" x="553.9" y="51.3">4aa</text>
<path d="M501.2,72.0 H544.4" stroke="#ff0000" stroke-width="1.9" fill="none"/>
<text class="lg" x="553.9" y="79.0">4ab</text>
<path d="M501.2,99.7 H544.4" stroke="#0000ff" stroke-width="1.9" fill="none"/>
<text class="lg" x="553.9" y="106.7">4ac</text>
<rect x="71" y="1.8" width="524" height="422.59999999999997" fill="none" stroke="#000" stroke-width="1.4"/>
<path d="M138.5,890.8 L139.6,890.8 L140.6,890.8 L141.6,890.8 L142.6,890.8 L143.6,890.8 L144.6,890.8 L145.6,890.8 L146.6,890.8 L147.6,890.8 L148.7,890.8 L149.7,890.8 L150.7,890.8 L151.7,890.8 L152.7,890.8 L153.7,890.8 L154.7,890.8 L155.7,890.8 L156.7,890.8 L157.7,890.8 L158.7,890.8 L159.7,890.8 L160.7,890.8 L161.7,890.8 L162.7,890.8 L163.7,890.8 L164.7,890.8 L165.7,890.8 L166.7,890.8 L167.7,890.8 L168.7,890.8 L169.7,890.8 L170.7,890.8 L171.7,890.8 L172.7,890.8 L173.7,890.8 L174.7,890.8 L175.7,890.8 L176.7,890.8 L177.7,890.8 L178.7,890.8 L179.7,890.8 L180.7,890.8 L181.7,890.8 L182.7,890.8 L183.7,890.8 L184.7,890.8 L185.7,890.8 L186.7,890.8 L187.6,890.8 L188.6,890.8 L189.6,890.8 L190.6,890.8 L191.6,890.8 L192.6,890.8 L193.6,890.8 L194.6,890.8 L195.6,890.7 L196.7,890.6 L197.7,890.4 L198.6,890.2 L199.5,889.9 L200.3,889.5 L200.9,889.0 L201.5,888.2 L202.1,887.4 L202.6,886.4 L203.1,885.4 L203.5,884.4 L203.8,883.4 L204.2,882.4 L204.5,881.5 L204.7,880.6 L205.0,879.6 L205.2,878.6 L205.4,877.7 L205.7,876.7 L205.9,875.7 L206.0,874.7 L206.2,873.7 L206.4,872.7 L206.6,871.7 L206.7,870.7 L206.9,869.7 L207.1,868.7 L207.2,867.7 L207.4,866.7 L207.6,865.7 L207.7,864.8 L207.9,863.8 L208.0,862.8 L208.2,861.8 L208.3,860.8 L208.5,859.8 L208.6,858.8 L208.7,857.8 L208.9,856.8 L209.0,855.8 L209.1,854.8 L209.3,853.8 L209.4,852.9 L209.5,851.9 L209.7,850.9 L209.8,849.9 L209.9,848.9 L210.0,847.9 L210.2,846.9 L210.3,845.9 L210.4,844.9 L210.6,843.9 L210.7,842.9 L210.8,841.9 L210.9,840.9 L211.1,839.9 L211.2,838.9 L211.3,838.0 L211.4,837.0 L211.5,836.0 L211.6,835.0 L211.8,834.0 L211.9,833.0 L212.0,832.0 L212.0,831.0 L212.1,830.0 L212.2,829.0 L212.3,828.0 L212.4,827.0 L212.5,826.0 L212.5,825.0 L212.6,824.0 L212.7,823.0 L212.8,822.0 L212.9,821.0 L212.9,820.0 L213.0,819.0 L213.1,818.0 L213.1,817.0 L213.2,816.0 L213.3,815.0 L213.3,814.0 L213.4,813.0 L213.5,812.0 L213.5,811.0 L213.6,810.0 L213.6,809.0 L213.7,808.0 L213.8,807.0 L213.8,806.0 L213.9,805.0 L213.9,804.0 L214.0,803.0 L214.0,802.0 L214.1,801.0 L214.1,800.0 L214.2,799.0 L214.2,798.0 L214.2,797.0 L214.3,796.0 L214.3,795.0 L214.4,794.0 L214.4,793.0 L214.4,792.0 L214.5,791.0 L214.5,790.0 L214.6,789.0 L214.6,788.0 L214.6,787.0 L214.7,786.0 L214.7,785.0 L214.7,784.0 L214.8,783.0 L214.8,782.0 L214.8,781.0 L214.8,780.0 L214.9,779.0 L214.9,778.0 L214.9,777.0 L215.0,776.0 L215.0,775.0 L215.0,774.0 L215.1,773.0 L215.1,772.0 L215.1,771.0 L215.2,770.0 L215.2,769.0 L215.2,768.0 L215.3,767.0 L215.3,766.0 L215.3,765.0 L215.4,764.0 L215.4,763.0 L215.4,762.0 L215.5,761.0 L215.5,760.0 L215.5,759.0 L215.6,758.0 L215.6,757.0 L215.7,756.0 L215.7,755.0 L215.7,754.0 L215.8,753.0 L215.8,752.0 L215.8,751.0 L215.9,750.0 L215.9,749.0 L216.0,748.0 L216.0,747.0 L216.1,746.0 L216.1,745.0 L216.1,744.0 L216.2,743.0 L216.2,742.0 L216.3,741.0 L216.3,740.0 L216.3,739.0 L216.4,738.0 L216.4,737.0 L216.5,736.0 L216.5,735.0 L216.5,734.0 L216.6,733.0 L216.6,732.0 L216.7,731.0 L216.7,730.0 L216.8,729.0 L216.8,728.0 L216.8,727.0 L216.9,726.0 L216.9,725.0 L217.0,724.0 L217.0,723.0 L217.0,722.0 L217.1,721.0 L217.1,720.0 L217.2,719.0 L217.2,718.0 L217.2,717.0 L217.3,716.0 L217.3,715.0 L217.4,714.0 L217.4,713.0 L217.4,712.0 L217.5,711.0 L217.5,710.0 L217.5,709.0 L217.6,708.0 L217.6,707.0 L217.7,706.0 L217.7,705.0 L217.7,704.0 L217.8,703.0 L217.8,702.0 L217.9,701.0 L217.9,700.0 L217.9,699.0 L218.0,698.0 L218.0,697.0 L218.1,696.0 L218.1,695.0 L218.1,694.0 L218.2,693.0 L218.2,692.0 L218.3,691.0 L218.3,690.0 L218.3,689.0 L218.4,688.0 L218.4,687.0 L218.5,686.0 L218.5,684.9 L218.5,683.9 L218.6,682.9 L218.6,681.9 L218.7,680.9 L218.7,679.9 L218.8,678.9 L218.8,677.9 L218.8,676.9 L218.9,675.9 L218.9,674.9 L219.0,673.9 L219.0,672.9 L219.1,671.9 L219.1,670.9 L219.1,669.9 L219.2,668.9 L219.2,667.9 L219.3,666.9 L219.3,665.9 L219.4,664.9 L219.4,663.9 L219.5,662.9 L219.5,661.9 L219.6,660.9 L219.6,659.9 L219.6,658.9 L219.7,657.9 L219.7,656.9 L219.8,655.9 L219.8,654.9 L219.9,653.9 L219.9,652.9 L220.0,651.9 L220.0,650.9 L220.1,649.9 L220.1,648.9 L220.2,647.9 L220.2,646.9 L220.3,645.9 L220.3,644.9 L220.4,643.9 L220.4,642.9 L220.5,641.9 L220.5,640.9 L220.6,639.9 L220.7,638.9 L220.7,637.9 L220.8,636.9 L220.8,635.9 L220.9,634.9 L221.0,633.9 L221.0,632.9 L221.1,631.9 L221.2,630.9 L221.2,629.9 L221.3,628.9 L221.3,627.9 L221.4,627.0 L221.5,626.0 L221.5,625.0 L221.6,624.0 L221.7,623.0 L221.7,622.0 L221.8,621.0 L221.8,620.0 L221.9,619.0 L221.9,618.0 L222.0,617.0 L222.0,616.0 L222.1,615.0 L222.1,614.0 L222.2,613.0 L222.2,612.0 L222.3,611.0 L222.3,610.0 L222.4,609.0 L222.4,608.0 L222.5,607.0 L222.5,606.0 L222.6,605.0 L222.6,604.0 L222.7,603.0 L222.7,602.0 L222.8,601.0 L222.8,600.0 L222.9,599.0 L222.9,598.0 L223.0,597.0 L223.1,596.0 L223.1,595.0 L223.2,594.0 L223.3,593.0 L223.4,592.0 L223.4,591.0 L223.5,590.0 L223.6,589.0 L223.6,588.0 L223.7,587.0 L223.8,586.0 L223.9,585.0 L223.9,584.0 L224.0,583.0 L224.1,582.0 L224.2,581.0 L224.2,580.0 L224.3,579.0 L224.4,578.0 L224.4,577.0 L224.5,576.0 L224.6,575.0 L224.6,574.0 L224.7,573.0 L224.7,572.0 L224.8,571.0 L224.9,570.0 L224.9,569.0 L225.0,568.0 L225.1,567.0 L225.1,566.0 L225.2,565.0 L225.3,564.0 L225.4,563.0 L225.5,562.0 L225.5,561.0 L225.6,560.0 L225.7,559.0 L225.8,558.0 L225.9,557.0 L226.0,556.0 L226.1,555.0 L226.1,554.0 L226.2,553.0 L226.4,552.0 L226.5,551.0 L226.6,550.0 L226.7,549.0 L226.9,548.0 L227.0,547.0 L227.2,546.0 L227.5,544.9 L227.8,543.8 L228.2,542.6 L228.6,541.5 L229.0,540.7 L229.4,540.1 L229.8,539.8 L230.1,540.0 L230.5,540.6 L230.9,541.5 L231.2,542.5 L231.5,543.7 L231.9,544.9 L232.2,546.0 L232.4,547.0 L232.7,548.0 L232.9,548.9 L233.1,549.9 L233.3,550.9 L233.5,551.9 L233.8,552.9 L234.0,553.8 L234.2,554.8 L234.5,555.8 L234.8,556.7 L235.1,557.7 L235.4,558.7 L235.7,559.6 L236.1,560.6 L236.4,561.5 L236.8,562.4 L237.3,563.4 L237.7,564.2 L238.2,565.1 L238.7,566.0 L239.3,567.0 L239.9,567.9 L240.6,568.8 L241.3,569.5 L242.0,569.9 L242.8,570.1 L243.7,569.9 L244.6,569.6 L245.5,569.1 L246.5,568.5 L247.4,568.1 L248.3,567.9 L249.1,567.9 L249.8,568.2 L250.5,568.8 L251.2,569.6 L251.8,570.6 L252.4,571.5 L252.9,572.5 L253.3,573.5 L253.7,574.4 L254.1,575.3 L254.4,576.2 L254.7,577.2 L254.9,578.2 L255.2,579.1 L255.4,580.1 L255.6,581.1 L255.8,582.1 L256.1,583.1 L256.3,584.1 L256.5,585.1 L256.6,586.1 L256.8,587.1 L257.0,588.0 L257.2,589.0 L257.3,590.0 L257.5,591.0 L257.6,592.0 L257.8,593.0 L257.9,594.0 L258.1,595.0 L258.2,596.0 L258.4,597.0 L258.5,598.0 L258.7,598.9 L258.8,599.9 L259.0,600.9 L259.1,601.9 L259.3,602.9 L259.4,603.9 L259.6,604.9 L259.8,605.9 L259.9,606.9 L260.1,607.8 L260.2,608.8 L260.4,609.8 L260.5,610.8 L260.7,611.8 L260.8,612.8 L261.0,613.8 L261.1,614.8 L261.3,615.8 L261.4,616.8 L261.6,617.7 L261.7,618.7 L261.9,619.7 L262.0,620.7 L262.2,621.7 L262.3,622.7 L262.5,623.7 L262.6,624.7 L262.7,625.7 L262.9,626.7 L263.0,627.7 L263.2,628.6 L263.3,629.6 L263.4,630.6 L263.6,631.6 L263.7,632.6 L263.8,633.6 L264.0,634.6 L264.1,635.6 L264.3,636.6 L264.4,637.6 L264.6,638.6 L264.7,639.5 L264.9,640.5 L265.0,641.5 L265.2,642.5 L265.4,643.5 L265.5,644.5 L265.7,645.5 L265.9,646.5 L266.1,647.4 L266.2,648.4 L266.4,649.4 L266.6,650.4 L266.8,651.4 L267.0,652.4 L267.1,653.4 L267.3,654.3 L267.5,655.3 L267.7,656.3 L267.9,657.3 L268.1,658.3 L268.2,659.3 L268.4,660.2 L268.6,661.2 L268.8,662.2 L269.0,663.2 L269.2,664.2 L269.4,665.2 L269.6,666.1 L269.8,667.1 L270.0,668.1 L270.2,669.1 L270.4,670.1 L270.6,671.0 L270.8,672.0 L271.0,673.0 L271.2,674.0 L271.4,675.0 L271.6,676.0 L271.8,676.9 L272.0,677.9 L272.2,678.9 L272.3,679.9 L272.5,680.9 L272.7,681.9 L272.9,682.8 L273.1,683.8 L273.3,684.8 L273.4,685.8 L273.6,686.8 L273.8,687.8 L274.0,688.7 L274.1,689.7 L274.3,690.7 L274.5,691.7 L274.7,692.7 L274.8,693.7 L275.0,694.7 L275.2,695.6 L275.4,696.6 L275.5,697.6 L275.7,698.6 L275.9,699.6 L276.0,700.6 L276.2,701.6 L276.4,702.6 L276.6,703.5 L276.7,704.5 L276.9,705.5 L277.0,706.5 L277.2,707.5 L277.4,708.5 L277.5,709.5 L277.7,710.5 L277.9,711.4 L278.0,712.4 L278.2,713.4 L278.3,714.4 L278.5,715.4 L278.7,716.4 L278.9,717.4 L279.0,718.4 L279.2,719.3 L279.4,720.3 L279.6,721.3 L279.8,722.3 L279.9,723.3 L280.1,724.3 L280.3,725.2 L280.5,726.2 L280.7,727.2 L280.9,728.2 L281.1,729.2 L281.3,730.2 L281.5,731.1 L281.7,732.1 L281.9,733.1 L282.1,734.1 L282.3,735.1 L282.5,736.0 L282.7,737.0 L282.9,738.0 L283.2,739.0 L283.4,740.0 L283.6,740.9 L283.8,741.9 L284.1,742.9 L284.3,743.8 L284.5,744.8 L284.8,745.8 L285.0,746.8 L285.3,747.7 L285.5,748.7 L285.8,749.7 L286.0,750.6 L286.3,751.6 L286.6,752.6 L286.8,753.5 L287.1,754.5 L287.3,755.5 L287.6,756.4 L287.8,757.4 L288.1,758.4 L288.3,759.4 L288.6,760.3 L288.8,761.3 L289.1,762.3 L289.3,763.2 L289.6,764.2 L289.8,765.2 L290.1,766.1 L290.3,767.1 L290.5,768.1 L290.8,769.1 L291.0,770.0 L291.3,771.0 L291.5,772.0 L291.7,772.9 L292.0,773.9 L292.2,774.9 L292.4,775.9 L292.7,776.8 L292.9,777.8 L293.1,778.8 L293.3,779.8 L293.5,780.8 L293.7,781.7 L293.9,782.7 L294.1,783.7 L294.3,784.7 L294.5,785.7 L294.7,786.7 L295.0,787.6 L295.2,788.6 L295.4,789.6 L295.6,790.6 L295.8,791.5 L296.1,792.5 L296.3,793.5 L296.6,794.4 L296.8,795.4 L297.1,796.4 L297.4,797.3 L297.7,798.3 L298.0,799.2 L298.4,800.2 L298.7,801.1 L299.0,802.1 L299.3,803.0 L299.6,804.0 L300.0,804.9 L300.3,805.9 L300.6,806.8 L300.9,807.8 L301.1,808.7 L301.4,809.7 L301.7,810.7 L302.0,811.6 L302.3,812.6 L302.6,813.5 L302.9,814.5 L303.2,815.5 L303.5,816.4 L303.8,817.4 L304.0,818.3 L304.3,819.3 L304.6,820.2 L304.9,821.2 L305.2,822.2 L305.5,823.1 L305.8,824.1 L306.1,825.0 L306.4,826.0 L306.7,826.9 L307.0,827.9 L307.3,828.9 L307.6,829.8 L307.9,830.8 L308.2,831.7 L308.5,832.7 L308.8,833.6 L309.1,834.6 L309.5,835.5 L309.8,836.5 L310.2,837.4 L310.5,838.3 L310.9,839.3 L311.3,840.2 L311.6,841.1 L312.0,842.0 L312.4,843.0 L312.9,843.9 L313.3,844.8 L313.7,845.7 L314.1,846.6 L314.6,847.5 L315.0,848.4 L315.5,849.3 L316.0,850.1 L316.5,851.0 L317.0,851.9 L317.5,852.7 L318.1,853.6 L318.6,854.4 L319.2,855.3 L319.7,856.1 L320.3,856.9 L320.9,857.7 L321.5,858.5 L322.2,859.3 L322.8,860.1 L323.4,860.8 L324.1,861.6 L324.8,862.3 L325.5,863.0 L326.2,863.7 L327.0,864.3 L327.8,864.9 L328.6,865.5 L329.4,866.1 L330.2,866.7 L331.0,867.3 L331.9,867.8 L332.7,868.4 L333.5,869.0 L334.2,869.7 L335.0,870.3 L335.7,871.0 L336.4,871.8 L337.1,872.5 L337.8,873.3 L338.4,874.0 L339.1,874.8 L339.8,875.5 L340.5,876.2 L341.2,876.9 L342.0,877.5 L342.8,878.1 L343.6,878.7 L344.4,879.2 L345.3,879.7 L346.1,880.3 L347.0,880.8 L347.9,881.3 L348.7,881.8 L349.6,882.3 L350.5,882.8 L351.3,883.4 L352.1,884.0 L353.0,884.5 L353.8,885.1 L354.7,885.7 L355.5,886.2 L356.4,886.7 L357.2,887.2 L358.1,887.6 L359.0,887.9 L360.0,888.3 L360.9,888.6 L361.9,888.8 L362.9,889.1 L363.9,889.3 L364.8,889.5 L365.8,889.7 L366.8,889.9 L367.8,890.0 L368.8,890.2 L369.8,890.3 L370.8,890.4 L371.8,890.5 L372.8,890.6 L373.8,890.7 L374.8,890.7 L375.8,890.8 L376.8,890.8 L377.8,890.8 L378.8,890.8 L379.8,890.8 L380.8,890.8 L381.8,890.8 L382.8,890.8 L383.8,890.8 L384.8,890.8 L385.8,890.8 L386.8,890.8 L387.8,890.8 L388.8,890.8 L389.8,890.8 L390.8,890.8 L391.8,890.8 L392.8,890.8 L393.8,890.8 L394.8,890.8 L395.8,890.8 L396.8,890.8 L397.8,890.8 L398.8,890.8 L399.7,890.8 L400.7,890.8 L401.7,890.8 L402.7,890.8 L403.7,890.8 L404.7,890.8 L405.7,890.8 L406.7,890.8 L407.7,890.8 L408.7,890.8 L409.7,890.8 L410.7,890.8 L411.7,890.8 L412.7,890.8 L413.7,890.8 L414.7,890.8 L415.7,890.8 L416.7,890.8 L417.7,890.8 L418.7,890.8 L419.7,890.8 L420.7,890.8 L421.7,890.8 L422.7,890.8 L423.7,890.8 L424.7,890.8 L425.7,890.8 L426.7,890.8 L427.7,890.8 L428.7,890.8 L429.7,890.8 L430.7,890.8 L431.7,890.8 L432.7,890.8 L433.7,890.8 L434.7,890.8 L435.7,890.8 L436.7,890.8 L437.7,890.8 L438.7,890.8 L439.7,890.8 L440.7,890.8 L441.7,890.8 L442.7,890.8 L443.7,890.8 L444.7,890.8 L445.7,890.8 L446.7,890.8 L447.7,890.8 L448.7,890.8 L449.7,890.8 L450.7,890.8 L451.7,890.8 L452.7,890.8 L453.7,890.8 L454.7,890.8 L455.7,890.8 L456.7,890.8 L457.7,890.8 L458.7,890.8 L459.7,890.8 L460.7,890.8 L461.7,890.8 L462.7,890.8 L463.7,890.8 L464.7,890.8 L465.7,890.8 L466.7,890.8 L467.7,890.8 L468.7,890.8 L469.7,890.8 L470.7,890.8 L471.7,890.8 L472.7,890.8 L473.8,890.8 L474.8,890.8 L475.8,890.8 L476.8,890.8 L477.8,890.8 L478.8,890.8 L479.8,890.8 L480.8,890.8 L481.8,890.8 L482.8,890.8 L483.8,890.8 L484.8,890.8 L485.8,890.8 L486.8,890.8 L487.8,890.8 L488.8,890.8 L489.8,890.8 L490.8,890.8 L491.8,890.8 L492.8,890.8 L493.8,890.8 L494.8,890.8 L495.8,890.8 L496.8,890.8 L497.8,890.8 L498.8,890.8 L499.8,890.8 L500.8,890.8 L501.8,890.8 L502.8,890.8 L503.8,890.8 L504.8,890.8 L505.8,890.8 L506.8,890.8 L507.8,890.8 L508.8,890.8 L509.8,890.8 L510.8,890.8 L511.9,890.8 L512.9,890.8 L513.9,890.8 L514.9,890.8 L515.9,890.8 L516.9,890.8 L517.9,890.8 L518.9,890.8 L519.9,890.8 L520.9,890.8 L521.9,890.8 L522.9,890.8 L523.9,890.8 L524.9,890.8 L525.9,890.8 L526.9,890.8 L527.9,890.8 L528.9,890.8 L529.9,890.8 L530.9,890.8 L531.9,890.8 L532.9,890.8 L534.0,890.8 L535.0,890.8 L536.0,890.8 L537.0,890.8 L538.0,890.8 L539.0,890.8 L540.0,890.8 L541.0,890.8 L541.9,890.8 L543.0,890.8" fill="none" stroke="#000000" stroke-width="1.95" stroke-linejoin="round" stroke-linecap="butt"/>
<path d="M228.0,890.8 L229.7,890.8 L231.1,890.8 L232.6,890.8 L234.1,890.8 L235.6,890.8 L237.1,890.8 L238.7,890.8 L240.2,890.8 L241.7,890.8 L243.2,890.8 L244.7,890.8 L246.2,890.8 L247.7,890.8 L249.3,890.8 L250.8,890.7 L252.3,890.7 L253.8,890.7 L255.3,890.7 L256.8,890.7 L258.3,890.7 L259.8,890.7 L261.3,890.7 L262.7,890.7 L264.2,890.6 L265.7,890.6 L267.2,890.6 L268.7,890.6 L270.2,890.6 L271.7,890.5 L273.2,890.5 L274.7,890.5 L276.1,890.5 L277.6,890.5 L279.1,890.4 L280.6,890.3 L282.1,890.2 L283.6,890.0 L285.1,889.7 L286.5,889.3 L288.0,888.8 L289.3,888.3 L290.6,887.6 L291.9,886.7 L293.1,885.8 L294.3,884.8 L295.3,883.8 L296.3,882.7 L297.3,881.5 L298.2,880.3 L299.0,879.0 L299.8,877.7 L300.4,876.4 L301.0,875.0 L301.5,873.6 L302.0,872.2 L302.4,870.8 L302.9,869.4 L303.3,867.9 L303.7,866.4 L304.0,864.9 L304.4,863.4 L304.7,862.0 L305.1,860.5 L305.4,859.0 L305.8,857.6 L306.1,856.1 L306.4,854.6 L306.7,853.2 L307.0,851.7 L307.3,850.2 L307.6,848.7 L307.9,847.3 L308.2,845.8 L308.4,844.3 L308.7,842.8 L309.0,841.3 L309.3,839.9 L309.7,838.4 L310.0,836.9 L310.3,835.5 L310.6,834.0 L310.9,832.5 L311.2,831.1 L311.5,829.6 L311.8,828.1 L312.1,826.6 L312.3,825.1 L312.6,823.7 L312.8,822.2 L313.1,820.7 L313.3,819.2 L313.5,817.7 L313.7,816.2 L314.0,814.8 L314.2,813.3 L314.4,811.8 L314.6,810.3 L314.8,808.8 L315.1,807.3 L315.3,805.8 L315.5,804.3 L315.7,802.9 L315.9,801.4 L316.1,799.9 L316.4,798.4 L316.6,796.9 L316.8,795.4 L317.1,793.9 L317.3,792.5 L317.5,791.0 L317.7,789.5 L318.0,788.0 L318.2,786.5 L318.4,785.0 L318.6,783.5 L318.8,782.1 L319.0,780.6 L319.2,779.1 L319.4,777.6 L319.6,776.1 L319.8,774.6 L320.0,773.1 L320.2,771.6 L320.4,770.1 L320.6,768.6 L320.8,767.2 L321.0,765.7 L321.2,764.2 L321.4,762.7 L321.5,761.2 L321.7,759.7 L321.9,758.2 L322.1,756.7 L322.3,755.2 L322.5,753.7 L322.7,752.2 L322.9,750.8 L323.1,749.3 L323.3,747.8 L323.5,746.3 L323.7,744.8 L323.9,743.3 L324.1,741.8 L324.3,740.3 L324.5,738.8 L324.7,737.3 L324.8,735.9 L325.0,734.4 L325.2,732.9 L325.4,731.4 L325.6,729.9 L325.8,728.4 L326.0,726.9 L326.2,725.4 L326.4,723.9 L326.6,722.4 L326.8,721.0 L327.0,719.5 L327.2,718.0 L327.4,716.5 L327.6,715.0 L327.9,713.5 L328.1,712.0 L328.3,710.5 L328.5,709.0 L328.7,707.6 L328.9,706.1 L329.1,704.6 L329.3,703.1 L329.5,701.6 L329.7,700.1 L329.9,698.6 L330.1,697.1 L330.3,695.6 L330.5,694.2 L330.7,692.7 L330.9,691.2 L331.1,689.7 L331.3,688.2 L331.5,686.7 L331.7,685.2 L331.9,683.7 L332.1,682.2 L332.3,680.7 L332.5,679.3 L332.7,677.8 L332.9,676.3 L333.1,674.8 L333.3,673.3 L333.5,671.8 L333.7,670.3 L333.9,668.8 L334.0,667.3 L334.2,665.8 L334.4,664.4 L334.6,662.9 L334.8,661.4 L334.9,659.9 L335.1,658.4 L335.3,656.9 L335.4,655.4 L335.6,653.9 L335.8,652.4 L335.9,650.9 L336.1,649.4 L336.3,647.9 L336.4,646.4 L336.6,644.9 L336.8,643.4 L337.0,642.0 L337.1,640.5 L337.3,639.0 L337.5,637.5 L337.7,636.0 L337.9,634.5 L338.1,633.0 L338.3,631.5 L338.5,630.0 L338.7,628.5 L338.9,627.1 L339.1,625.6 L339.3,624.1 L339.5,622.6 L339.7,621.1 L339.9,619.6 L340.1,618.1 L340.3,616.6 L340.5,615.1 L340.7,613.6 L340.9,612.2 L341.1,610.7 L341.3,609.2 L341.5,607.7 L341.7,606.2 L342.0,604.7 L342.2,603.2 L342.4,601.7 L342.6,600.3 L342.9,598.8 L343.1,597.3 L343.3,595.8 L343.6,594.3 L343.8,592.8 L344.0,591.3 L344.3,589.8 L344.6,588.4 L344.8,586.9 L345.2,585.4 L345.4,583.2 L345.6,582.4 L345.8,580.9 L346.3,579.5 L346.9,578.3 L347.2,576.7 L347.6,575.7 L348.0,573.6 L348.7,571.9 L349.2,571.0 L349.4,569.9 L350.3,568.8 L350.8,567.1 L351.3,564.5 L351.5,564.0 L351.9,563.1 L352.0,561.0 L352.9,559.2 L352.7,558.2 L353.5,556.4 L354.1,555.5 L354.9,553.8 L355.4,553.2 L355.8,551.4 L356.4,549.4 L357.3,548.8 L358.2,547.6 L359.0,545.6 L359.8,544.4 L360.5,542.6 L361.7,542.7 L363.1,541.1 L363.9,540.0 L365.6,539.7 L367.4,540.4 L368.5,541.3 L369.6,541.6 L371.1,542.8 L371.9,543.0 L373.0,544.0 L374.2,546.2 L375.1,547.2 L374.9,548.3 L376.1,550.3 L377.1,550.7 L377.1,552.4 L377.9,554.6 L378.8,556.2 L378.9,556.9 L379.8,559.0 L380.4,559.3 L380.6,561.1 L381.8,562.2 L382.3,562.9 L383.2,565.2 L384.0,566.9 L384.2,567.8 L384.4,569.2 L385.0,571.4 L385.4,571.5 L386.0,572.8 L385.7,574.7 L386.1,575.9 L386.2,578.7 L387.2,579.6 L387.4,580.5 L387.6,582.1 L388.0,584.6 L388.5,585.0 L388.8,586.3 L389.4,588.3 L389.8,589.9 L390.8,591.1 L391.0,592.0 L391.2,593.3 L391.7,595.6 L392.6,596.7 L392.9,597.4 L393.3,600.2 L393.8,601.4 L394.5,602.3 L394.2,603.8 L394.7,605.5 L394.8,606.5 L395.8,607.6 L396.0,609.9 L396.3,610.4 L396.6,612.8 L397.4,613.4 L397.5,615.5 L397.8,616.9 L398.7,619.2 L398.5,619.4 L398.8,620.6 L400.0,622.5 L399.8,623.7 L400.2,625.4 L400.5,627.4 L401.1,629.0 L401.7,630.8 L402.1,631.1 L402.4,633.7 L402.7,635.1 L402.8,635.7 L403.7,636.5 L404.5,638.6 L404.8,640.1 L405.1,640.8 L405.9,642.9 L406.2,644.2 L406.9,645.3 L407.2,647.3 L408.0,648.9 L408.7,649.6 L409.1,651.3 L409.8,652.3 L410.5,653.7 L410.8,655.6 L410.7,657.2 L411.0,658.2 L411.3,659.2 L411.6,661.7 L412.2,662.1 L412.7,664.3 L413.0,666.5 L413.5,667.2 L413.9,668.0 L414.2,669.3 L414.5,672.1 L415.6,672.9 L415.9,674.6 L415.8,676.3 L416.3,677.2 L416.8,678.5 L417.4,679.6 L418.2,680.8 L418.5,682.2 L419.0,684.4 L419.4,685.8 L419.8,687.5 L420.2,688.7 L420.5,690.3 L420.8,692.0 L420.8,692.6 L421.6,694.4 L422.5,695.2 L422.4,697.9 L422.7,698.9 L423.6,700.5 L423.7,702.5 L424.0,703.7 L424.9,704.6 L425.1,706.5 L425.5,706.8 L425.6,709.2 L426.3,710.5 L426.6,711.1 L427.1,714.0 L427.5,714.4 L427.9,716.6 L428.0,717.5 L428.5,719.7 L428.4,721.3 L429.2,721.7 L429.6,722.8 L429.7,725.0 L430.0,726.9 L430.6,727.7 L430.8,729.0 L431.6,731.0 L432.1,731.4 L432.3,733.2 L433.1,734.3 L433.9,736.5 L434.5,737.4 L435.1,738.6 L435.4,740.4 L435.9,741.2 L436.5,743.3 L437.3,744.3 L438.3,745.9 L438.7,747.1 L439.4,749.3 L439.9,750.1 L439.7,751.9 L440.7,753.2 L441.3,753.9 L442.4,756.0 L443.1,757.3 L443.1,758.6 L443.9,759.6 L444.7,760.9 L445.0,763.0 L445.6,764.8 L446.2,764.8 L447.3,766.9 L447.4,767.8 L448.6,769.8 L448.9,771.0 L449.7,772.7 L450.6,772.6 L450.6,774.5 L451.2,775.6 L452.2,777.5 L452.4,778.5 L453.1,779.9 L454.0,782.0 L454.7,783.9 L455.0,783.4 L455.9,785.5 L456.9,787.2 L457.8,788.3 L457.5,789.4 L459.2,790.1 L459.8,791.7 L459.9,794.1 L460.5,795.6 L461.8,796.3 L462.3,797.0 L463.2,798.9 L464.2,800.0 L464.6,801.8 L465.6,802.8 L466.5,803.6 L467.4,805.4 L468.5,805.7 L469.3,808.3 L469.7,809.8 L470.4,809.5 L472.0,811.8 L472.4,812.0 L473.2,814.7 L473.6,815.8 L475.2,816.2 L475.5,818.2 L476.6,818.4 L477.2,819.4 L478.4,820.6 L479.6,822.1 L480.0,823.1 L481.2,824.6 L482.4,825.2 L483.0,827.4 L483.9,828.7 L485.0,828.8 L485.8,829.3 L487.4,832.1 L487.8,833.6 L489.3,833.8 L490.3,834.2 L490.5,836.5 L491.9,838.6 L492.7,837.5 L493.4,840.1 L494.7,840.6 L495.8,841.3 L497.2,843.4 L498.4,842.9 L498.7,845.1 L500.2,846.8 L501.8,846.8 L503.3,846.8 L503.3,847.2 L505.8,848.2 L506.5,848.9 L508.4,852.2 L508.9,851.6 L509.9,851.8 L511.5,852.5 L513.2,853.5 L514.0,855.0 L514.3,855.1 L516.7,858.3 L517.0,857.2 L518.5,858.0 L519.7,859.8 L520.6,861.6 L522.1,862.3 L523.5,861.5 L525.0,863.0 L526.5,863.6 L527.7,864.8 L528.5,865.3 L530.4,864.9 L532.2,865.3 L533.5,867.4 L534.5,866.9 L536.0,870.0 L537.5,869.5 L539.0,869.2 L540.5,870.5 L540.9,871.0 L542.3,871.9 L544.6,873.5 L546.0,871.6 L547.5,871.9 L547.2,874.0 L549.6,873.8 L550.1,874.5 L553.0,875.2 L554.0,875.1 L555.4,876.6 L556.6,875.5 L558.7,877.2 L559.2,877.1 L561.0,877.5 L561.9,879.6" fill="none" stroke="#ff0000" stroke-width="1.95" stroke-linejoin="round" stroke-linecap="butt"/>
<path d="M256.3,890.8 L257.0,889.3 L257.5,888.0 L258.1,886.6 L258.6,885.3 L259.2,883.9 L259.7,882.5 L260.3,881.1 L260.8,879.6 L261.3,878.2 L261.8,876.8 L262.3,875.4 L262.8,874.0 L263.3,872.5 L263.7,871.1 L264.2,869.7 L264.7,868.3 L265.1,866.8 L265.5,865.4 L266.0,863.9 L266.4,862.5 L266.8,861.1 L267.3,859.6 L267.7,858.2 L268.1,856.7 L268.5,855.3 L268.9,853.8 L269.3,852.4 L269.7,850.9 L270.1,849.5 L270.4,848.0 L270.8,846.6 L271.2,845.1 L271.6,843.7 L272.0,842.2 L272.3,840.7 L272.7,839.3 L273.1,837.8 L273.5,836.4 L273.8,834.9 L274.2,833.5 L274.6,832.0 L275.0,830.6 L275.3,829.1 L275.7,827.6 L276.1,826.2 L276.4,824.7 L276.8,823.3 L277.1,821.8 L277.5,820.3 L277.8,818.9 L278.1,817.4 L278.5,815.9 L278.8,814.5 L279.1,813.0 L279.4,811.5 L279.8,810.1 L280.1,808.6 L280.4,807.1 L280.7,805.6 L281.0,804.2 L281.3,802.7 L281.6,801.2 L281.8,799.8 L282.1,798.3 L282.4,796.8 L282.7,795.3 L283.0,793.8 L283.3,792.4 L283.6,790.9 L283.9,789.4 L284.2,787.9 L284.4,786.5 L284.7,785.0 L285.0,783.5 L285.3,782.0 L285.6,780.6 L285.9,779.1 L286.2,777.6 L286.5,776.1 L286.8,774.7 L287.0,773.2 L287.3,771.7 L287.6,770.2 L287.9,768.8 L288.2,767.3 L288.4,765.8 L288.7,764.3 L289.0,762.8 L289.3,761.4 L289.5,759.9 L289.8,758.4 L290.0,756.9 L290.3,755.4 L290.6,754.0 L290.8,752.5 L291.1,751.0 L291.3,749.5 L291.6,748.0 L291.8,746.6 L292.0,745.1 L292.3,743.6 L292.5,742.1 L292.8,740.6 L293.0,739.1 L293.3,737.7 L293.5,736.2 L293.8,734.7 L294.0,733.2 L294.3,731.7 L294.5,730.2 L294.8,728.8 L295.1,727.3 L295.3,725.8 L295.6,724.3 L295.9,722.9 L296.2,721.4 L296.4,719.9 L296.7,718.4 L297.0,716.9 L297.3,715.5 L297.5,714.0 L297.8,712.5 L298.1,711.0 L298.4,709.5 L298.6,708.1 L298.9,706.6 L299.2,705.1 L299.4,703.6 L299.7,702.1 L299.9,700.7 L300.2,699.2 L300.4,697.7 L300.7,696.2 L300.9,694.7 L301.1,693.2 L301.4,691.8 L301.6,690.3 L301.8,688.8 L302.1,687.3 L302.3,685.8 L302.5,684.3 L302.8,682.8 L303.0,681.4 L303.2,679.9 L303.5,678.4 L303.7,676.9 L304.0,675.4 L304.3,674.0 L304.5,672.5 L304.8,671.0 L305.1,669.5 L305.4,668.0 L305.7,666.6 L306.0,665.1 L306.3,663.6 L306.6,662.2 L306.9,660.7 L307.2,659.2 L307.5,657.8 L307.9,656.3 L308.2,654.8 L308.5,653.3 L308.8,651.9 L309.1,650.4 L309.5,648.9 L309.8,647.5 L310.1,646.0 L310.4,644.5 L310.7,643.1 L311.0,641.6 L311.3,640.1 L311.6,638.6 L311.9,637.2 L312.1,635.7 L312.4,634.2 L312.7,632.7 L313.0,631.2 L313.3,629.8 L313.6,628.3 L313.9,626.8 L314.2,625.3 L314.4,623.9 L314.7,622.4 L315.0,620.9 L315.3,619.4 L315.6,618.0 L315.9,616.5 L316.2,615.0 L316.4,613.5 L316.7,612.1 L317.0,610.6 L317.3,609.1 L317.6,607.6 L317.9,606.2 L318.7,604.1 L318.0,604.3 L319.4,602.6 L319.2,600.2 L319.4,598.4 L319.1,597.1 L320.5,596.0 L320.1,594.4 L320.6,593.3 L321.3,592.0 L321.1,591.0 L321.5,589.3 L321.8,587.0 L322.6,585.9 L323.2,583.9 L323.5,582.3 L324.0,582.4 L324.1,579.5 L324.7,579.5 L324.9,576.8 L326.3,575.7 L326.2,574.9 L325.9,572.7 L326.8,571.6 L328.3,569.7 L327.8,568.2 L328.7,567.0 L329.6,565.3 L329.8,565.5 L331.2,563.0 L332.2,562.9 L332.1,559.5 L333.6,559.3 L333.7,558.4 L334.5,556.5 L335.7,556.2 L336.4,554.5 L336.8,552.5 L338.0,551.6 L337.9,551.1 L338.9,548.9 L339.7,547.8 L341.3,546.2 L342.4,545.5 L343.5,543.5 L344.0,543.4 L345.8,543.7 L347.2,542.5 L347.8,541.5 L349.5,541.1 L351.3,541.0 L352.7,540.3 L353.8,541.3 L355.1,541.7 L356.2,542.1 L357.3,544.1 L358.4,543.2 L359.1,545.0 L360.3,546.8 L361.2,547.1 L362.9,548.9 L363.2,549.8 L363.9,551.1 L364.6,553.8 L365.5,554.5 L366.2,555.3 L367.3,557.6 L367.9,557.7 L369.0,559.8 L369.2,560.7 L370.4,562.8 L371.3,562.1 L371.3,564.9 L372.5,565.8 L373.3,566.2 L373.7,569.1 L374.4,569.1 L374.6,572.1 L376.3,572.8 L376.2,574.3 L376.7,575.2 L377.9,577.2 L377.6,576.9 L379.2,579.4 L379.5,580.3 L380.1,582.3 L380.4,583.5 L380.5,585.4 L380.8,585.8 L382.5,588.8 L382.3,590.2 L382.8,590.4 L384.1,592.0 L383.8,593.6 L384.4,595.7 L384.9,597.3 L385.4,596.8 L385.6,598.7 L386.2,599.8 L387.3,601.2 L387.6,602.4 L387.1,605.1 L387.5,605.5 L388.8,608.8 L389.0,609.8 L389.3,609.9 L390.3,611.3 L389.7,613.1 L391.2,615.9 L391.2,615.8 L391.8,616.8 L392.2,619.2 L392.9,620.9 L393.0,621.6 L393.4,624.6 L394.3,625.1 L394.7,626.6 L394.7,627.1 L396.2,629.1 L396.6,630.4 L397.3,630.9 L397.3,633.5 L398.0,633.7 L398.3,636.1 L398.6,636.5 L399.4,640.0 L400.0,640.6 L400.2,642.4 L401.5,643.9 L400.8,643.7 L401.6,645.0 L402.1,647.3 L403.2,649.6 L403.2,650.4 L403.6,652.3 L403.9,653.9 L404.4,653.6 L404.7,656.3 L406.0,658.5 L406.4,658.5 L407.0,659.3 L406.9,661.6 L408.4,662.8 L407.8,664.9 L408.0,665.4 L409.1,667.5 L409.7,667.8 L410.4,670.9 L410.2,672.7 L411.3,674.0 L412.1,673.5 L411.7,676.2 L412.2,676.4 L412.3,679.0 L413.4,680.2 L414.1,681.0 L414.5,683.4 L415.0,684.7 L415.7,686.7 L415.6,687.5 L416.4,689.1 L416.1,689.3 L416.6,691.0 L417.4,692.9 L417.5,694.9 L418.4,696.1 L419.1,698.6 L419.3,698.3 L419.3,700.2 L419.7,702.0 L420.9,703.1 L420.6,705.0 L421.4,705.7 L421.7,708.6 L422.3,708.8 L423.1,711.2 L423.0,711.8 L423.2,714.3 L424.6,713.7 L424.7,716.5 L425.4,717.3 L425.6,719.1 L426.4,721.2 L427.1,721.0 L427.6,722.3 L427.6,723.9 L428.1,726.2 L428.9,726.3 L429.4,728.9 L430.1,729.3 L430.3,730.8 L430.4,732.7 L431.9,734.6 L432.6,735.3 L433.1,736.8 L434.1,738.5 L434.4,739.7 L434.5,740.2 L435.6,742.3 L435.9,744.1 L436.9,746.2 L437.2,747.9 L437.9,748.6 L438.4,749.6 L438.9,750.2 L439.0,752.3 L440.2,754.2 L440.0,756.0 L441.6,755.7 L442.4,757.9 L443.4,759.7 L443.4,761.6 L443.6,762.0 L443.9,762.7 L446.0,764.0 L445.3,765.6 L446.9,766.7 L446.4,769.3 L447.8,770.8 L448.8,771.9 L449.3,773.6 L449.8,773.6 L450.2,775.6 L450.8,776.3 L452.3,778.0 L452.8,780.4 L453.2,780.7 L454.0,780.8 L454.3,783.1 L455.8,784.1 L456.6,784.7 L456.4,786.7 L457.4,789.5 L458.5,791.3 L458.5,790.9 L460.3,793.6 L460.8,795.1 L460.8,794.3 L462.0,796.7 L463.1,798.0 L462.5,799.5 L464.1,799.3 L464.5,801.6 L465.3,804.1 L466.5,805.6 L466.8,807.1 L467.2,806.7 L468.0,809.6 L469.5,810.1 L470.6,809.4 L471.2,812.7 L472.0,812.8 L472.9,814.9 L474.4,815.5 L475.0,818.0 L475.2,818.3 L476.4,819.0 L478.0,821.4 L478.0,821.9 L479.1,822.4 L480.2,825.3 L480.6,824.8 L482.5,825.7 L482.0,827.0 L484.6,827.2 L484.6,829.3 L485.1,832.6 L486.8,831.4 L486.7,833.5 L488.7,833.6 L489.7,835.3 L489.9,838.7 L490.9,839.3 L492.5,838.9 L492.6,840.8 L493.9,841.0 L495.0,842.3 L496.6,843.3 L496.5,844.4 L497.8,846.9 L499.4,848.3 L498.6,849.3 L500.6,849.7 L500.8,849.4 L501.9,852.0 L505.1,852.0 L505.2,855.1 L507.0,855.8 L507.1,857.0 L508.7,856.7 L509.3,856.3 L510.4,860.1 L511.9,861.3 L513.3,859.0 L515.3,861.7 L515.6,863.9 L517.2,862.0 L518.0,865.9 L519.6,864.5 L519.9,864.4 L522.7,868.2 L522.9,867.7 L524.6,867.3 L525.7,870.0 L527.7,867.8 L528.7,872.4 L529.7,870.2 L531.1,872.3 L532.5,872.2 L534.1,874.0 L535.3,875.3 L537.1,873.7 L538.7,876.5 L539.4,875.8 L539.5,875.9 L542.9,877.2 L544.4,876.7 L544.2,877.6 L545.6,880.5 L545.9,879.5 L549.2,881.8 L549.4,881.4 L552.8,879.9 L551.5,879.8 L554.3,881.6 L556.0,883.6 L556.6,884.0 L557.6,883.6 L559.6,887.0 L560.1,884.1 L561.9,887.3" fill="none" stroke="#7f00ff" stroke-width="2.1" stroke-linejoin="round" stroke-linecap="butt"/>
<path d="M137.8,890.8 L139.2,890.8 L140.0,890.8 L140.9,890.8 L141.9,890.8 L142.9,890.8 L143.9,890.8 L144.9,890.8 L145.9,890.8 L146.9,890.8 L148.0,890.8 L149.0,890.8 L150.0,890.8 L151.0,890.8 L152.0,890.8 L153.0,890.8 L154.0,890.8 L155.0,890.8 L156.1,890.8 L157.1,890.8 L158.1,890.8 L159.1,890.8 L160.1,890.8 L161.1,890.8 L162.1,890.8 L163.1,890.8 L164.1,890.8 L165.1,890.8 L166.1,890.8 L167.1,890.8 L168.1,890.8 L169.1,890.8 L170.1,890.8 L171.2,890.8 L172.2,890.8 L173.2,890.8 L174.2,890.8 L175.2,890.8 L176.2,890.8 L177.2,890.8 L178.2,890.8 L179.2,890.8 L180.2,890.8 L181.2,890.8 L182.2,890.8 L183.2,890.8 L184.2,890.8 L185.2,890.8 L186.2,890.8 L187.2,890.8 L188.2,890.8 L189.2,890.8 L190.2,890.8 L191.2,890.8 L192.2,890.8 L193.1,890.8 L194.1,890.8 L195.1,890.8 L196.1,890.8 L197.1,890.8 L198.1,890.8 L199.1,890.8 L200.1,890.8 L201.1,890.8 L202.1,890.8 L203.1,890.8 L204.1,890.8 L205.1,890.8 L206.1,890.8 L207.1,890.8 L208.1,890.8 L209.1,890.8 L210.0,890.8 L211.0,890.8 L212.0,890.8 L213.0,890.8 L214.0,890.8 L215.0,890.8 L216.0,890.8 L217.0,890.8 L218.0,890.8 L219.0,890.8 L220.0,890.8 L221.0,890.8 L222.0,890.7 L223.0,890.6 L224.0,890.5 L225.0,890.3 L225.9,890.0 L226.7,889.7 L227.5,889.2 L228.1,888.7 L228.7,887.9 L229.3,887.1 L229.8,886.2 L230.2,885.2 L230.6,884.2 L231.0,883.2 L231.3,882.2 L231.6,881.3 L231.9,880.3 L232.1,879.4 L232.3,878.4 L232.6,877.4 L232.8,876.4 L233.0,875.4 L233.1,874.4 L233.3,873.4 L233.5,872.5 L233.7,871.5 L233.9,870.5 L234.0,869.5 L234.2,868.5 L234.4,867.5 L234.6,866.5 L234.8,865.5 L234.9,864.5 L235.1,863.5 L235.3,862.6 L235.5,861.6 L235.6,860.6 L235.8,859.6 L236.0,858.6 L236.1,857.6 L236.3,856.6 L236.4,855.6 L236.6,854.7 L236.7,853.7 L236.9,852.7 L237.0,851.7 L237.2,850.7 L237.3,849.7 L237.4,848.7 L237.6,847.7 L237.7,846.7 L237.8,845.7 L238.0,844.7 L238.1,843.7 L238.2,842.7 L238.3,841.8 L238.5,840.8 L238.6,839.8 L238.7,838.8 L238.8,837.8 L238.9,836.8 L239.0,835.8 L239.2,834.8 L239.3,833.8 L239.4,832.8 L239.5,831.8 L239.6,830.8 L239.7,829.8 L239.7,828.8 L239.8,827.8 L239.9,826.8 L240.0,825.8 L240.1,824.8 L240.2,823.8 L240.3,822.8 L240.4,821.8 L240.4,820.8 L240.5,819.8 L240.6,818.8 L240.7,817.8 L240.8,816.8 L240.8,815.8 L240.9,814.8 L241.0,813.8 L241.1,812.8 L241.1,811.8 L241.2,810.8 L241.3,809.8 L241.4,808.8 L241.4,807.8 L241.5,806.8 L241.6,805.8 L241.6,804.8 L241.7,803.8 L241.7,802.8 L241.8,801.8 L241.9,800.8 L241.9,799.8 L242.0,798.8 L242.0,797.8 L242.1,796.8 L242.1,795.8 L242.2,794.8 L242.2,793.8 L242.3,792.8 L242.3,791.8 L242.4,790.8 L242.4,789.8 L242.5,788.8 L242.5,787.8 L242.6,786.8 L242.6,785.8 L242.6,784.8 L242.7,783.8 L242.7,782.8 L242.8,781.8 L242.8,780.8 L242.8,779.8 L242.9,778.8 L242.9,777.8 L243.0,776.8 L243.0,775.8 L243.1,774.8 L243.1,773.8 L243.1,772.8 L243.2,771.8 L243.2,770.8 L243.3,769.8 L243.3,768.8 L243.3,767.8 L243.4,766.8 L243.4,765.8 L243.5,764.8 L243.5,763.8 L243.6,762.8 L243.6,761.8 L243.7,760.8 L243.7,759.8 L243.8,758.8 L243.8,757.8 L243.9,756.8 L243.9,755.8 L244.0,754.8 L244.0,753.8 L244.1,752.8 L244.1,751.8 L244.2,750.8 L244.2,749.8 L244.3,748.8 L244.3,747.8 L244.4,746.8 L244.4,745.8 L244.5,744.8 L244.6,743.8 L244.6,742.8 L244.7,741.8 L244.7,740.8 L244.8,739.8 L244.8,738.8 L244.9,737.8 L245.0,736.8 L245.0,735.8 L245.1,734.8 L245.1,733.8 L245.2,732.8 L245.2,731.8 L245.3,730.8 L245.4,729.8 L245.4,728.8 L245.5,727.8 L245.5,726.8 L245.6,725.8 L245.6,724.8 L245.7,723.8 L245.8,722.8 L245.8,721.8 L245.9,720.8 L245.9,719.8 L246.0,718.8 L246.0,717.8 L246.1,716.8 L246.2,715.8 L246.2,714.8 L246.3,713.8 L246.3,712.8 L246.4,711.8 L246.5,710.8 L246.5,709.8 L246.6,708.8 L246.6,707.8 L246.7,706.8 L246.8,705.8 L246.8,704.8 L246.9,703.8 L246.9,702.8 L247.0,701.8 L247.0,700.8 L247.1,699.8 L247.2,698.8 L247.2,697.8 L247.3,696.8 L247.3,695.8 L247.4,694.8 L247.5,693.8 L247.5,692.8 L247.6,691.8 L247.6,690.8 L247.7,689.8 L247.8,688.8 L247.8,687.8 L247.9,686.8 L248.0,685.8 L248.0,684.8 L248.1,683.8 L248.1,682.8 L248.2,681.8 L248.3,680.8 L248.3,679.8 L248.4,678.8 L248.4,677.8 L248.5,676.8 L248.6,675.8 L248.6,674.8 L248.7,673.8 L248.8,672.8 L248.8,671.8 L248.9,670.8 L248.9,669.8 L249.0,668.8 L249.1,667.8 L249.1,666.8 L249.2,665.8 L249.2,664.8 L249.3,663.8 L249.4,662.8 L249.4,661.8 L249.5,660.8 L249.5,659.8 L249.6,658.8 L249.7,657.8 L249.7,656.8 L249.8,655.8 L249.9,654.8 L249.9,653.8 L250.0,652.8 L250.1,651.8 L250.1,650.8 L250.2,649.8 L250.3,648.8 L250.3,647.8 L250.4,646.8 L250.5,645.8 L250.5,644.8 L250.6,643.8 L250.7,642.8 L250.8,641.8 L250.8,640.8 L250.9,639.8 L251.0,638.8 L251.1,637.8 L251.2,636.8 L251.3,635.8 L251.3,634.8 L251.4,633.8 L251.5,632.8 L251.6,631.8 L251.7,630.8 L251.8,629.9 L251.9,628.9 L252.0,627.9 L252.1,626.9 L252.2,625.9 L252.3,624.9 L252.4,623.9 L252.5,622.9 L252.6,621.9 L252.7,620.9 L252.7,619.9 L252.8,618.9 L252.9,617.9 L253.0,616.9 L253.1,615.9 L253.2,614.9 L253.2,613.9 L253.3,612.9 L253.4,611.9 L253.5,610.9 L253.5,609.9 L253.6,608.9 L253.7,607.9 L253.8,606.9 L253.8,605.9 L253.9,604.9 L254.0,603.9 L254.1,602.9 L254.2,601.9 L254.3,600.9 L254.3,599.9 L254.4,598.9 L254.5,597.9 L254.6,596.9 L254.7,595.9 L254.8,594.9 L254.9,593.9 L255.0,592.9 L255.1,591.9 L255.2,590.9 L255.3,589.9 L255.4,588.9 L255.5,587.9 L255.6,586.9 L255.7,585.9 L255.8,585.0 L255.9,584.0 L256.0,583.0 L256.1,582.0 L256.2,581.0 L256.3,580.0 L256.4,579.0 L256.6,578.0 L256.7,577.0 L256.8,576.0 L256.9,575.0 L257.0,574.0 L257.1,573.0 L257.2,572.0 L257.3,571.0 L257.4,570.0 L257.5,569.0 L257.7,568.0 L257.8,567.0 L257.9,566.0 L258.0,565.0 L258.2,564.0 L258.3,563.1 L258.4,562.1 L258.6,561.1 L258.7,560.1 L258.9,559.1 L259.0,558.1 L259.2,557.1 L259.3,556.1 L259.5,555.1 L259.6,554.0 L259.8,553.0 L260.0,552.0 L260.2,551.1 L260.4,550.1 L260.6,549.1 L260.9,548.2 L261.1,547.2 L261.5,546.2 L261.8,545.2 L262.3,544.2 L262.8,543.2 L263.3,542.3 L263.9,541.5 L264.5,540.8 L265.1,540.3 L265.7,540.1 L266.3,540.2 L266.9,540.6 L267.5,541.2 L268.1,542.0 L268.7,542.9 L269.3,543.9 L269.8,544.9 L270.2,545.9 L270.6,546.8 L271.0,547.8 L271.3,548.7 L271.7,549.6 L271.9,550.6 L272.2,551.6 L272.5,552.5 L272.7,553.5 L273.0,554.5 L273.2,555.5 L273.5,556.5 L273.7,557.5 L274.0,558.4 L274.2,559.4 L274.5,560.4 L274.7,561.4 L275.0,562.3 L275.2,563.3 L275.5,564.3 L275.7,565.2 L275.9,566.2 L276.2,567.2 L276.4,568.2 L276.7,569.1 L276.9,570.1 L277.1,571.1 L277.4,572.1 L277.6,573.0 L277.9,574.0 L278.1,575.0 L278.3,576.0 L278.6,576.9 L278.8,577.9 L279.0,578.9 L279.3,579.8 L279.5,580.8 L279.8,581.8 L280.0,582.8 L280.3,583.7 L280.5,584.7 L280.8,585.7 L281.0,586.6 L281.3,587.6 L281.5,588.6 L281.7,589.6 L282.0,590.5 L282.2,591.5 L282.5,592.5 L282.7,593.4 L283.0,594.4 L283.2,595.4 L283.5,596.3 L283.7,597.3 L284.0,598.3 L284.2,599.3 L284.5,600.2 L284.7,601.2 L284.9,602.2 L285.2,603.1 L285.4,604.1 L285.7,605.1 L285.9,606.1 L286.1,607.0 L286.4,608.0 L286.6,609.0 L286.9,610.0 L287.1,610.9 L287.3,611.9 L287.6,612.9 L287.8,613.8 L288.1,614.8 L288.3,615.8 L288.6,616.8 L288.8,617.7 L289.0,618.7 L289.3,619.7 L289.5,620.6 L289.8,621.6 L290.0,622.6 L290.3,623.5 L290.6,624.5 L290.8,625.5 L291.1,626.5 L291.3,627.4 L291.6,628.4 L291.9,629.4 L292.1,630.3 L292.4,631.3 L292.7,632.3 L292.9,633.2 L293.2,634.2 L293.4,635.2 L293.7,636.1 L294.0,637.1 L294.2,638.1 L294.4,639.0 L294.7,640.0 L294.9,641.0 L295.2,641.9 L295.4,642.9 L295.7,643.9 L295.9,644.9 L296.1,645.8 L296.4,646.8 L296.6,647.8 L296.8,648.8 L297.1,649.7 L297.3,650.7 L297.5,651.7 L297.7,652.7 L298.0,653.6 L298.2,654.6 L298.4,655.6 L298.6,656.6 L298.9,657.5 L299.1,658.5 L299.3,659.5 L299.5,660.5 L299.7,661.5 L300.0,662.4 L300.2,663.4 L300.4,664.4 L300.6,665.4 L300.8,666.3 L301.0,667.3 L301.2,668.3 L301.5,669.3 L301.7,670.3 L301.9,671.2 L302.1,672.2 L302.3,673.2 L302.5,674.2 L302.7,675.2 L302.9,676.1 L303.1,677.1 L303.3,678.1 L303.5,679.1 L303.8,680.1 L304.0,681.0 L304.2,682.0 L304.4,683.0 L304.6,684.0 L304.8,685.0 L304.9,685.9 L305.1,686.9 L305.3,687.9 L305.5,688.9 L305.7,689.9 L305.9,690.9 L306.1,691.8 L306.3,692.8 L306.5,693.8 L306.6,694.8 L306.8,695.8 L307.0,696.8 L307.2,697.8 L307.3,698.7 L307.5,699.7 L307.7,700.7 L307.8,701.7 L308.0,702.7 L308.2,703.7 L308.3,704.7 L308.5,705.7 L308.7,706.6 L308.9,707.6 L309.0,708.6 L309.2,709.6 L309.4,710.6 L309.5,711.6 L309.7,712.6 L309.9,713.6 L310.0,714.5 L310.2,715.5 L310.4,716.5 L310.6,717.5 L310.7,718.5 L310.9,719.5 L311.1,720.5 L311.3,721.4 L311.5,722.4 L311.7,723.4 L311.9,724.4 L312.0,725.4 L312.2,726.4 L312.4,727.3 L312.6,728.3 L312.8,729.3 L313.0,730.3 L313.2,731.3 L313.4,732.3 L313.6,733.2 L313.8,734.2 L314.0,735.2 L314.2,736.2 L314.4,737.2 L314.6,738.1 L314.8,739.1 L315.0,740.1 L315.2,741.1 L315.4,742.1 L315.6,743.0 L315.8,744.0 L316.1,745.0 L316.3,746.0 L316.5,747.0 L316.7,747.9 L316.9,748.9 L317.1,749.9 L317.3,750.9 L317.6,751.9 L317.8,752.8 L318.0,753.8 L318.2,754.8 L318.5,755.8 L318.7,756.7 L318.9,757.7 L319.2,758.7 L319.4,759.7 L319.7,760.6 L319.9,761.6 L320.2,762.6 L320.5,763.5 L320.7,764.5 L321.0,765.4 L321.3,766.4 L321.6,767.4 L321.8,768.3 L322.1,769.3 L322.4,770.3 L322.7,771.2 L323.0,772.2 L323.3,773.1 L323.6,774.1 L323.9,775.0 L324.2,776.0 L324.5,776.9 L324.9,777.9 L325.2,778.8 L325.5,779.8 L325.8,780.7 L326.2,781.7 L326.5,782.6 L326.8,783.6 L327.2,784.5 L327.5,785.4 L327.9,786.4 L328.2,787.3 L328.6,788.3 L328.9,789.2 L329.3,790.1 L329.6,791.1 L330.0,792.0 L330.4,792.9 L330.8,793.9 L331.1,794.8 L331.5,795.7 L331.9,796.7 L332.2,797.6 L332.6,798.5 L333.0,799.4 L333.4,800.4 L333.8,801.3 L334.1,802.2 L334.5,803.1 L334.9,804.1 L335.3,805.0 L335.7,805.9 L336.1,806.8 L336.5,807.7 L336.9,808.7 L337.3,809.6 L337.7,810.5 L338.1,811.4 L338.5,812.3 L338.9,813.3 L339.3,814.2 L339.7,815.1 L340.1,816.0 L340.5,816.9 L340.9,817.9 L341.3,818.8 L341.7,819.7 L342.0,820.6 L342.4,821.6 L342.8,822.5 L343.2,823.4 L343.6,824.3 L344.0,825.2 L344.4,826.2 L344.8,827.1 L345.2,828.0 L345.6,828.9 L346.0,829.8 L346.5,830.7 L346.9,831.6 L347.3,832.5 L347.7,833.4 L348.2,834.3 L348.6,835.2 L349.1,836.1 L349.6,837.0 L350.0,837.9 L350.5,838.8 L351.0,839.6 L351.5,840.5 L352.0,841.4 L352.5,842.2 L353.0,843.1 L353.5,844.0 L354.1,844.8 L354.6,845.7 L355.1,846.5 L355.6,847.4 L356.1,848.2 L356.7,849.1 L357.2,850.0 L357.7,850.8 L358.3,851.6 L358.8,852.5 L359.4,853.3 L359.9,854.2 L360.4,855.0 L361.0,855.9 L361.6,856.7 L362.1,857.5 L362.7,858.3 L363.3,859.2 L363.9,860.0 L364.4,860.8 L365.0,861.6 L365.6,862.4 L366.2,863.2 L366.8,864.0 L367.4,864.8 L368.1,865.6 L368.7,866.4 L369.3,867.2 L370.0,868.0 L370.6,868.7 L371.3,869.4 L372.0,870.1 L372.7,870.8 L373.4,871.5 L374.2,872.2 L375.0,872.8 L375.7,873.4 L376.5,874.0 L377.4,874.6 L378.2,875.2 L379.0,875.8 L379.9,876.3 L380.7,876.8 L381.6,877.3 L382.4,877.8 L383.3,878.3 L384.2,878.8 L385.1,879.2 L386.0,879.6 L386.9,880.1 L387.8,880.5 L388.7,880.9 L389.7,881.3 L390.6,881.7 L391.5,882.1 L392.4,882.5 L393.3,882.9 L394.3,883.3 L395.2,883.6 L396.1,884.0 L397.1,884.4 L398.0,884.7 L398.9,885.1 L399.9,885.5 L400.8,885.8 L401.7,886.2 L402.7,886.5 L403.6,886.9 L404.6,887.2 L405.5,887.6 L406.4,887.9 L407.4,888.2 L408.3,888.6 L409.3,888.9 L410.2,889.2 L411.2,889.5 L412.2,889.7 L413.1,890.0 L414.1,890.2 L415.1,890.3 L416.1,890.5 L417.1,890.6 L418.1,890.7 L419.1,890.7 L420.1,890.8 L421.1,890.8 L422.1,890.8 L423.1,890.8 L424.1,890.8 L425.1,890.8 L426.1,890.8 L427.1,890.8 L428.1,890.8 L429.1,890.8 L430.1,890.8 L431.1,890.8 L432.1,890.8 L433.1,890.8 L434.1,890.8 L435.1,890.8 L436.1,890.8 L437.1,890.8 L438.1,890.8 L439.1,890.8 L440.1,890.8 L441.1,890.8 L442.1,890.8 L443.1,890.8 L444.1,890.8 L445.1,890.8 L446.1,890.8 L447.1,890.8 L448.1,890.8 L449.1,890.8 L450.1,890.8 L451.1,890.8 L452.1,890.8 L453.1,890.8 L454.1,890.8 L455.1,890.8 L456.1,890.8 L457.1,890.8 L458.1,890.8 L459.1,890.8 L460.1,890.8 L461.1,890.8 L462.1,890.8 L463.1,890.8 L464.1,890.8 L465.1,890.8 L466.1,890.8 L467.1,890.8 L468.1,890.8 L469.1,890.8 L470.1,890.8 L471.1,890.8 L472.1,890.8 L473.1,890.8 L474.1,890.8 L475.1,890.8 L476.1,890.8 L477.1,890.8 L478.1,890.8 L479.1,890.8 L480.1,890.8 L481.1,890.8 L482.1,890.8 L483.1,890.8 L484.1,890.8 L485.1,890.8 L486.1,890.8 L487.1,890.8 L488.1,890.8 L489.1,890.8 L490.1,890.8 L491.1,890.8 L492.1,890.8 L493.1,890.8 L494.1,890.8 L495.1,890.8 L496.1,890.8 L497.1,890.8 L498.1,890.8 L499.1,890.8 L500.1,890.8 L501.1,890.8 L502.1,890.8 L503.1,890.8 L504.1,890.8 L505.1,890.8 L506.1,890.8 L507.1,890.8 L508.1,890.8 L509.1,890.8 L510.1,890.8 L511.1,890.8 L512.1,890.8 L513.2,890.8 L514.2,890.8 L515.2,890.8 L516.2,890.8 L517.2,890.8 L518.2,890.8 L519.2,890.8 L520.2,890.8 L521.2,890.8 L522.2,890.8 L523.2,890.8 L524.2,890.8 L525.2,890.8 L526.2,890.8 L527.2,890.8 L528.2,890.8 L529.2,890.8 L530.2,890.8 L531.2,890.8 L532.2,890.8 L533.2,890.8 L534.2,890.8 L535.3,890.8 L536.3,890.8 L537.3,890.8 L538.3,890.8 L539.3,890.8 L540.2,890.8 L541.1,890.8 L541.9,890.8 L543.3,890.8" fill="none" stroke="#0000ff" stroke-width="1.95" stroke-linejoin="round" stroke-linecap="butt"/>
<rect x="67.4" y="504.4" width="523.2" height="421.4" fill="none" stroke="#000" stroke-width="1.4"/>
<text class="tk" x="160.8" y="951.7" text-anchor="middle">400</text>
<text class="tk" x="256.3" y="951.7" text-anchor="middle">500</text>
<text class="tk" x="351.8" y="951.7" text-anchor="middle">600</text>
<text class="tk" x="447.3" y="951.7" text-anchor="middle">700</text>
<text class="tk" x="542.8" y="951.7" text-anchor="middle">800</text>
<text class="tk" x="57.2" y="897.4" text-anchor="end">0.0</text>
<text class="tk" x="57.2" y="827.2" text-anchor="end">0.2</text>
<text class="tk" x="57.2" y="757.0" text-anchor="end">0.4</text>
<text class="tk" x="57.2" y="686.7" text-anchor="end">0.6</text>
<text class="tk" x="57.2" y="616.5" text-anchor="end">0.8</text>
<text class="tk" x="57.2" y="546.3" text-anchor="end">1.0</text>
<path d="M113.05,925.8 v-4 M160.80,925.8 v-7.6 M208.55,925.8 v-4 M256.30,925.8 v-7.6 M304.05,925.8 v-4 M351.80,925.8 v-7.6 M399.55,925.8 v-4 M447.30,925.8 v-7.6 M495.05,925.8 v-4 M542.80,925.8 v-7.6 M67.4,890.70 h7.6 M67.4,855.59 h4 M67.4,820.48 h7.6 M67.4,785.37 h4 M67.4,750.26 h7.6 M67.4,715.15 h4 M67.4,680.04 h7.6 M67.4,644.93 h4 M67.4,609.82 h7.6 M67.4,574.71 h4 M67.4,539.60 h7.6" fill="none" stroke="#000" stroke-width="1.3"/>
<text class="lb" style="font-size:21.8px" transform="translate(18.6,710.9) rotate(-90)" text-anchor="middle">Normalized fluorescence intensity</text>
<text class="lb" x="329" y="981.2" text-anchor="middle">Wavelength / nm</text>
<text class="ti" style="font-size:21.6px" x="93.6" y="528.8"><tspan class="rg">(</tspan>b<tspan class="rg">)</tspan>PL</text>
<rect x="507.7" y="504.4" width="82.90000000000003" height="117.20000000000005" fill="#fff" stroke="#000" stroke-width="1"/>
<path d="M516.3,521.8 H544.4" stroke="#000000" stroke-width="1.9" fill="none"/>
<text class="lg" x="550" y="526.8">4a</text>
<path d="M516.3,549.4 H544.4" stroke="#7f00ff" stroke-width="1.9" fill="none"/>
<text class="lg" x="550" y="554.4">4aa</text>
<path d="M516.3,577 H544.4" stroke="#ff0000" stroke-width="1.9" fill="none"/>
<text class="lg" x="550" y="582.0">4ab</text>
<path d="M516.3,604.6 H544.4" stroke="#0000ff" stroke-width="1.9" fill="none"/>
<text class="lg" x="550" y="609.6">4ac</text>
<rect x="67.4" y="504.4" width="523.2" height="421.4" fill="none" stroke="#000" stroke-width="1.4"/>
</svg></body></html>
